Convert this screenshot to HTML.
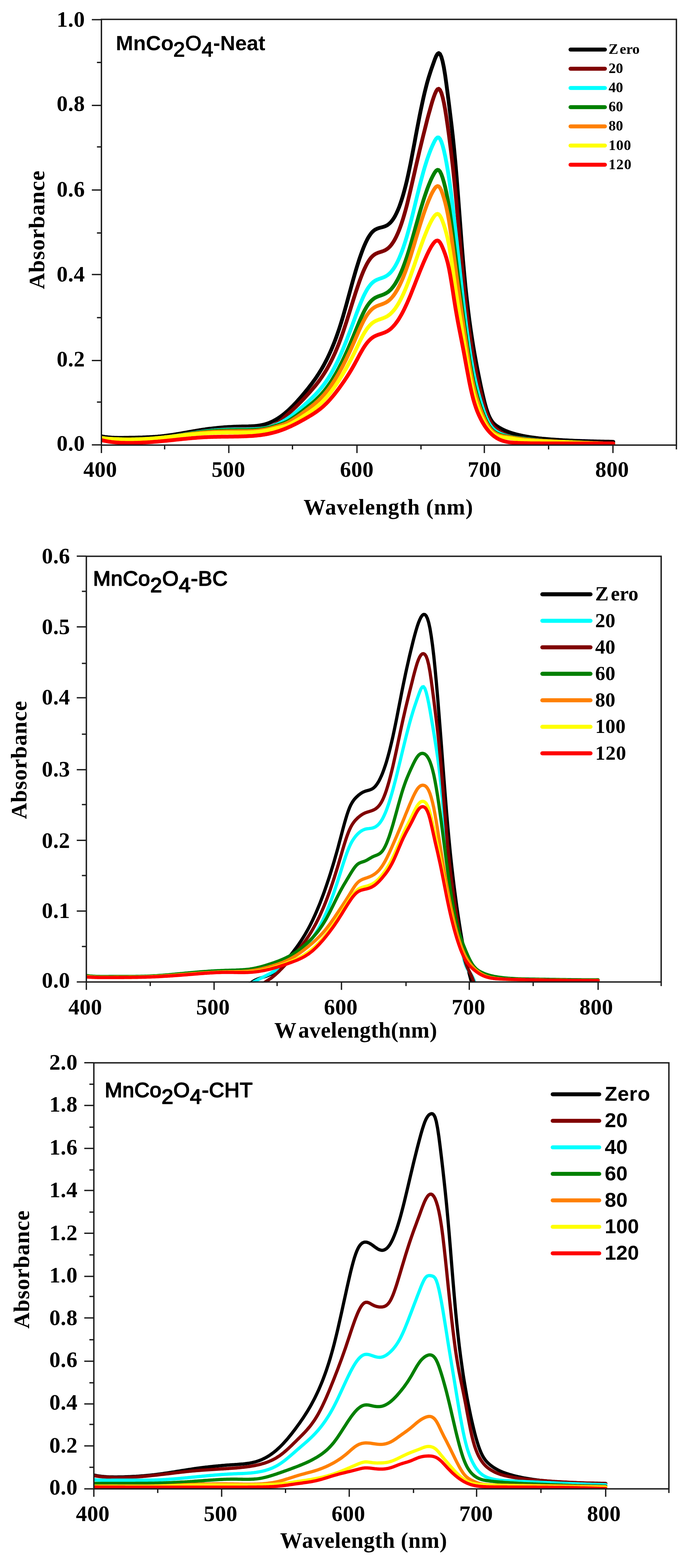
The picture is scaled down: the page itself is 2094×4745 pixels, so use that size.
<!DOCTYPE html>
<html lang="en">
<head>
<meta charset="utf-8">
<title>UV-Vis absorbance spectra</title>
<style>
html,body{margin:0;padding:0;background:#fff;}
body{width:2094px;height:4745px;overflow:hidden;}
svg{display:block;filter:blur(0.7px);}
.ax{stroke:#1c1c1c;fill:none;stroke-linecap:butt;}
.cv{fill:none;stroke-linejoin:round;stroke-linecap:round;}
.tl{font-family:"Liberation Serif","DejaVu Serif",serif;font-weight:bold;fill:#000;}
.tt{font-family:"Liberation Sans","DejaVu Sans",sans-serif;font-weight:bold;fill:#000;}
.tn{font-family:"Liberation Sans","DejaVu Sans",sans-serif;font-weight:normal;fill:#000;stroke:#000;stroke-width:2.5px;stroke-linejoin:round;}
</style>
</head>
<body>
<svg width="2094" height="4745" viewBox="0 0 2094 4745">
<rect x="0" y="0" width="2094" height="4745" fill="#ffffff"/>
<g id="chart1">
<clipPath id="clip1"><rect x="306.9" y="58.6" width="1739.9" height="1288.3"/></clipPath>
<g clip-path="url(#clip1)">
<polyline class="cv" stroke="#000000" stroke-width="11.5" points="306.9,1320.5 310.8,1321.2 314.6,1321.8 318.5,1322.4 322.4,1322.8 326.2,1323.3 330.1,1323.6 334.0,1323.9 337.8,1324.2 341.7,1324.4 345.6,1324.6 349.4,1324.7 353.3,1324.8 357.2,1324.9 361.0,1324.9 364.9,1324.9 368.8,1324.9 372.6,1324.9 376.5,1324.8 380.4,1324.8 384.2,1324.7 388.1,1324.7 392.0,1324.6 395.8,1324.6 399.7,1324.5 403.6,1324.4 407.4,1324.4 411.3,1324.3 415.2,1324.2 419.0,1324.1 422.9,1324.0 426.8,1323.9 430.6,1323.8 434.5,1323.6 438.4,1323.5 442.2,1323.3 446.1,1323.1 450.0,1323.0 453.8,1322.7 457.7,1322.5 461.6,1322.3 465.4,1322.0 469.3,1321.8 473.2,1321.5 477.0,1321.2 480.9,1320.8 484.8,1320.5 488.6,1320.1 492.5,1319.7 496.4,1319.3 500.2,1318.8 504.1,1318.3 508.0,1317.8 511.8,1317.3 515.7,1316.8 519.6,1316.2 523.4,1315.6 527.3,1315.0 531.2,1314.4 535.0,1313.8 538.9,1313.1 542.8,1312.5 546.6,1311.8 550.5,1311.1 554.4,1310.4 558.2,1309.8 562.1,1309.1 566.0,1308.4 569.8,1307.7 573.7,1307.0 577.6,1306.3 581.4,1305.7 585.3,1305.0 589.2,1304.3 593.0,1303.6 596.9,1303.0 600.7,1302.4 604.6,1301.7 608.5,1301.1 612.3,1300.5 616.2,1299.9 620.1,1299.4 623.9,1298.8 627.8,1298.3 631.7,1297.8 635.5,1297.3 639.4,1296.9 643.3,1296.4 647.1,1296.0 651.0,1295.6 654.9,1295.2 658.7,1294.8 662.6,1294.4 666.5,1294.1 670.3,1293.7 674.2,1293.4 678.1,1293.1 681.9,1292.8 685.8,1292.6 689.7,1292.3 693.5,1292.1 697.4,1291.9 701.3,1291.7 705.1,1291.5 709.0,1291.3 712.9,1291.2 716.7,1291.0 720.6,1290.9 724.5,1290.8 728.3,1290.7 732.2,1290.6 736.1,1290.5 739.9,1290.5 743.8,1290.4 747.7,1290.4 751.5,1290.3 755.4,1290.1 759.3,1290.0 763.1,1289.8 767.0,1289.6 770.9,1289.3 774.7,1288.9 778.6,1288.5 782.5,1288.0 786.3,1287.4 790.2,1286.7 794.1,1285.9 797.9,1285.0 801.8,1284.0 805.7,1282.9 809.5,1281.6 813.4,1280.2 817.3,1278.6 821.1,1276.9 825.0,1275.1 828.9,1273.1 832.7,1271.0 836.6,1268.7 840.5,1266.3 844.3,1263.8 848.2,1261.2 852.1,1258.4 855.9,1255.5 859.8,1252.4 863.7,1249.2 867.5,1245.9 871.4,1242.5 875.3,1238.9 879.1,1235.2 883.0,1231.4 886.9,1227.5 890.7,1223.5 894.6,1219.4 898.5,1215.2 902.3,1210.9 906.2,1206.5 910.1,1202.1 913.9,1197.6 917.8,1193.0 921.7,1188.3 925.5,1183.6 929.4,1178.9 933.3,1174.0 937.1,1169.1 941.0,1164.1 944.9,1159.0 948.7,1153.7 952.6,1148.3 956.5,1142.8 960.3,1137.0 964.2,1131.1 968.1,1124.9 971.9,1118.6 975.8,1112.0 979.7,1105.1 983.5,1097.9 987.4,1090.5 991.3,1082.7 995.1,1074.6 999.0,1066.2 1002.9,1057.4 1006.7,1048.2 1010.6,1038.6 1014.5,1028.6 1018.3,1018.2 1022.2,1007.2 1026.1,995.8 1029.9,983.9 1033.8,971.5 1037.7,958.6 1041.5,945.2 1045.4,931.5 1049.3,917.5 1053.1,903.3 1057.0,889.1 1060.9,874.8 1064.7,860.7 1068.6,846.7 1072.5,833.1 1076.3,819.8 1080.2,806.9 1084.1,794.5 1087.9,782.6 1091.8,771.3 1095.7,760.6 1099.5,750.6 1103.4,741.3 1107.3,732.7 1111.1,724.9 1115.0,717.9 1118.9,711.8 1122.7,706.5 1126.6,702.0 1130.5,698.4 1134.3,695.6 1138.2,693.4 1142.1,691.7 1145.9,690.4 1149.8,689.3 1153.7,688.3 1157.5,687.3 1161.4,686.1 1165.3,684.7 1169.1,682.9 1173.0,680.7 1176.8,677.8 1180.7,674.3 1184.6,670.0 1188.4,665.0 1192.3,659.1 1196.2,652.3 1200.0,644.7 1203.9,636.1 1207.8,626.6 1211.6,616.0 1215.5,604.4 1219.4,591.8 1223.2,578.1 1227.1,563.3 1231.0,547.5 1234.8,530.5 1238.7,512.3 1242.6,493.3 1246.4,473.5 1250.3,453.2 1254.2,432.6 1258.0,411.9 1261.9,391.3 1265.8,371.1 1269.6,351.3 1273.5,332.2 1277.4,313.8 1281.2,296.2 1285.1,279.5 1289.0,263.8 1292.8,249.3 1296.7,235.9 1300.6,223.5 1304.4,211.8 1308.3,200.6 1312.2,189.6 1316.0,178.9 1319.9,169.5 1323.8,163.0 1327.6,160.5 1331.5,163.4 1335.4,171.6 1339.2,185.2 1343.1,203.8 1347.0,227.3 1350.8,254.5 1354.7,284.1 1358.6,314.9 1362.4,345.9 1366.3,377.9 1370.2,411.9 1374.0,448.9 1377.9,490.0 1381.8,535.9 1385.6,585.2 1389.5,636.6 1393.4,688.3 1397.2,738.9 1401.1,786.6 1405.0,830.3 1408.8,870.0 1412.7,906.1 1416.6,939.1 1420.4,969.3 1424.3,997.1 1428.2,1022.9 1432.0,1047.1 1435.9,1069.9 1439.8,1091.5 1443.6,1112.0 1447.5,1131.8 1451.4,1150.8 1455.2,1169.3 1459.1,1187.1 1463.0,1203.9 1466.8,1219.4 1470.7,1233.4 1474.6,1245.6 1478.4,1255.9 1482.3,1264.4 1486.2,1271.3 1490.0,1276.9 1493.9,1281.4 1497.8,1285.1 1501.6,1288.1 1505.5,1290.7 1509.4,1293.2 1513.2,1295.4 1517.1,1297.6 1521.0,1299.6 1524.8,1301.4 1528.7,1303.2 1532.6,1304.8 1536.4,1306.4 1540.3,1307.8 1544.2,1309.1 1548.0,1310.4 1551.9,1311.6 1555.8,1312.7 1559.6,1313.8 1563.5,1314.8 1567.4,1315.7 1571.2,1316.7 1575.1,1317.5 1579.0,1318.4 1582.8,1319.2 1586.7,1319.9 1590.6,1320.6 1594.4,1321.3 1598.3,1322.0 1602.2,1322.6 1606.0,1323.2 1609.9,1323.8 1613.8,1324.3 1617.6,1324.8 1621.5,1325.3 1625.4,1325.7 1629.2,1326.2 1633.1,1326.6 1637.0,1327.0 1640.8,1327.4 1644.7,1327.7 1648.6,1328.1 1652.4,1328.4 1656.3,1328.7 1660.2,1329.1 1664.0,1329.4 1667.9,1329.7 1671.8,1329.9 1675.6,1330.2 1679.5,1330.5 1683.4,1330.8 1687.2,1331.0 1691.1,1331.3 1695.0,1331.5 1698.8,1331.7 1702.7,1332.0 1706.6,1332.2 1710.4,1332.4 1714.3,1332.6 1718.2,1332.8 1722.0,1333.0 1725.9,1333.2 1729.8,1333.3 1733.6,1333.5 1737.5,1333.7 1741.4,1333.9 1745.2,1334.0 1749.1,1334.2 1753.0,1334.3 1756.8,1334.4 1760.7,1334.6 1764.5,1334.7 1768.4,1334.8 1772.3,1335.0 1776.1,1335.1 1780.0,1335.2 1783.9,1335.3 1787.7,1335.4 1791.6,1335.5 1795.5,1335.6 1799.3,1335.7 1803.2,1335.8 1807.1,1335.9 1810.9,1336.0 1814.8,1336.1 1818.7,1336.2 1822.5,1336.3 1826.4,1336.3 1830.3,1336.4 1834.1,1336.5 1838.0,1336.6 1841.9,1336.6 1845.7,1336.7 1849.6,1336.8 1853.5,1336.9 1855.8,1336.9"/>
<polyline class="cv" stroke="#800000" stroke-width="11.5" points="306.9,1325.0 310.8,1325.7 314.6,1326.3 318.5,1326.9 322.4,1327.3 326.2,1327.7 330.1,1328.1 334.0,1328.3 337.8,1328.6 341.7,1328.8 345.6,1329.0 349.4,1329.1 353.3,1329.2 357.2,1329.3 361.0,1329.4 364.9,1329.4 368.8,1329.5 372.6,1329.5 376.5,1329.5 380.4,1329.5 384.2,1329.5 388.1,1329.5 392.0,1329.4 395.8,1329.4 399.7,1329.3 403.6,1329.3 407.4,1329.2 411.3,1329.1 415.2,1329.0 419.0,1328.9 422.9,1328.8 426.8,1328.7 430.6,1328.6 434.5,1328.4 438.4,1328.2 442.2,1328.1 446.1,1327.9 450.0,1327.7 453.8,1327.4 457.7,1327.2 461.6,1326.9 465.4,1326.7 469.3,1326.4 473.2,1326.1 477.0,1325.7 480.9,1325.4 484.8,1325.0 488.6,1324.6 492.5,1324.2 496.4,1323.8 500.2,1323.3 504.1,1322.8 508.0,1322.3 511.8,1321.8 515.7,1321.3 519.6,1320.7 523.4,1320.1 527.3,1319.6 531.2,1319.0 535.0,1318.3 538.9,1317.7 542.8,1317.1 546.6,1316.5 550.5,1315.8 554.4,1315.2 558.2,1314.5 562.1,1313.9 566.0,1313.2 569.8,1312.6 573.7,1311.9 577.6,1311.3 581.4,1310.6 585.3,1310.0 589.2,1309.4 593.0,1308.8 596.9,1308.2 600.7,1307.6 604.6,1307.0 608.5,1306.5 612.3,1305.9 616.2,1305.4 620.1,1304.9 623.9,1304.4 627.8,1304.0 631.7,1303.5 635.5,1303.1 639.4,1302.7 643.3,1302.3 647.1,1301.9 651.0,1301.6 654.9,1301.2 658.7,1300.9 662.6,1300.6 666.5,1300.3 670.3,1300.1 674.2,1299.8 678.1,1299.6 681.9,1299.3 685.8,1299.1 689.7,1298.9 693.5,1298.7 697.4,1298.5 701.3,1298.4 705.1,1298.3 709.0,1298.2 712.9,1298.1 716.7,1298.0 720.6,1297.9 724.5,1297.9 728.3,1297.9 732.2,1297.8 736.1,1297.8 739.9,1297.8 743.8,1297.9 747.7,1297.9 751.5,1297.8 755.4,1297.8 759.3,1297.7 763.1,1297.6 767.0,1297.5 770.9,1297.3 774.7,1297.1 778.6,1296.9 782.5,1296.7 786.3,1296.5 790.2,1296.3 794.1,1295.9 797.9,1295.5 801.8,1295.0 805.7,1294.4 809.5,1293.6 813.4,1292.7 817.3,1291.6 821.1,1290.2 825.0,1288.7 828.9,1287.0 832.7,1285.0 836.6,1282.6 840.5,1279.9 844.3,1277.0 848.2,1273.9 852.1,1270.6 855.9,1267.2 859.8,1263.7 863.7,1260.1 867.5,1256.5 871.4,1252.9 875.3,1249.3 879.1,1245.9 883.0,1242.5 886.9,1239.0 890.7,1235.4 894.6,1231.8 898.5,1228.0 902.3,1224.2 906.2,1220.3 910.1,1216.3 913.9,1212.3 917.8,1208.2 921.7,1204.0 925.5,1199.8 929.4,1195.6 933.3,1191.4 937.1,1187.1 941.0,1182.7 944.9,1178.3 948.7,1173.8 952.6,1169.2 956.5,1164.4 960.3,1159.5 964.2,1154.4 968.1,1149.2 971.9,1143.7 975.8,1138.1 979.7,1132.2 983.5,1126.1 987.4,1119.7 991.3,1113.0 995.1,1106.0 999.0,1098.7 1002.9,1091.1 1006.7,1083.2 1010.6,1074.9 1014.5,1066.3 1018.3,1057.3 1022.2,1047.9 1026.1,1038.1 1029.9,1027.9 1033.8,1017.2 1037.7,1006.2 1041.5,994.7 1045.4,983.0 1049.3,971.0 1053.1,958.8 1057.0,946.4 1060.9,934.0 1064.7,921.6 1068.6,909.3 1072.5,897.1 1076.3,885.1 1080.2,873.4 1084.1,862.0 1087.9,851.0 1091.8,840.5 1095.7,830.5 1099.5,821.1 1103.4,812.4 1107.3,804.4 1111.1,797.1 1115.0,790.6 1118.9,784.8 1122.7,779.8 1126.6,775.7 1130.5,772.3 1134.3,769.5 1138.2,767.4 1142.1,765.7 1145.9,764.2 1149.8,763.0 1153.7,761.8 1157.5,760.5 1161.4,759.0 1165.3,757.2 1169.1,755.0 1173.0,752.3 1176.8,749.0 1180.7,745.1 1184.6,740.4 1188.4,735.0 1192.3,728.9 1196.2,721.9 1200.0,714.2 1203.9,705.6 1207.8,696.2 1211.6,685.9 1215.5,674.8 1219.4,662.8 1223.2,650.0 1227.1,636.3 1231.0,621.7 1234.8,606.2 1238.7,590.1 1242.6,573.7 1246.4,556.9 1250.3,540.0 1254.2,523.0 1258.0,506.0 1261.9,489.1 1265.8,472.4 1269.6,456.0 1273.5,439.9 1277.4,424.0 1281.2,408.5 1285.1,393.1 1289.0,377.5 1292.8,362.1 1296.7,347.4 1300.6,333.6 1304.4,320.0 1308.3,306.6 1312.2,294.8 1316.0,284.4 1319.9,275.8 1323.8,270.1 1327.6,268.6 1331.5,272.2 1335.4,280.5 1339.2,293.3 1343.1,310.3 1347.0,331.0 1350.8,354.9 1354.7,381.4 1358.6,409.7 1362.4,439.4 1366.3,470.6 1370.2,503.8 1374.0,539.4 1377.9,577.8 1381.8,619.0 1385.6,662.4 1389.5,706.9 1393.4,751.6 1397.2,795.3 1401.1,837.0 1405.0,876.0 1408.8,912.3 1412.7,945.9 1416.6,977.0 1420.4,1005.8 1424.3,1032.5 1428.2,1057.1 1432.0,1080.0 1435.9,1101.2 1439.8,1121.0 1443.6,1139.6 1447.5,1157.2 1451.4,1174.1 1455.2,1190.3 1459.1,1205.8 1463.0,1220.3 1466.8,1233.8 1470.7,1246.0 1474.6,1256.7 1478.4,1265.8 1482.3,1273.5 1486.2,1280.1 1490.0,1285.6 1493.9,1290.2 1497.8,1294.2 1501.6,1297.6 1505.5,1300.7 1509.4,1303.6 1513.2,1306.3 1517.1,1308.8 1521.0,1311.1 1524.8,1313.2 1528.7,1315.2 1532.6,1317.0 1536.4,1318.5 1540.3,1319.9 1544.2,1321.1 1548.0,1322.1 1551.9,1322.9 1555.8,1323.5 1559.6,1324.0 1563.5,1324.5 1567.4,1324.9 1571.2,1325.2 1575.1,1325.7 1579.0,1326.1 1582.8,1326.7 1586.7,1327.3 1590.6,1327.8 1594.4,1328.4 1598.3,1328.9 1602.2,1329.4 1606.0,1329.9 1609.9,1330.4 1613.8,1330.8 1617.6,1331.2 1621.5,1331.6 1625.4,1332.0 1629.2,1332.4 1633.1,1332.7 1637.0,1333.1 1640.8,1333.4 1644.7,1333.7 1648.6,1334.0 1652.4,1334.3 1656.3,1334.6 1660.2,1334.8 1664.0,1335.1 1667.9,1335.4 1671.8,1335.6 1675.6,1335.9 1679.5,1336.1 1683.4,1336.3 1687.2,1336.5 1691.1,1336.8 1695.0,1337.0 1698.8,1337.2 1702.7,1337.4 1706.6,1337.6 1710.4,1337.8 1714.3,1338.0 1718.2,1338.2 1722.0,1338.3 1725.9,1338.5 1729.8,1338.7 1733.6,1338.8 1737.5,1339.0 1741.4,1339.2 1745.2,1339.3 1749.1,1339.5 1753.0,1339.6 1756.8,1339.8 1760.7,1339.9 1764.5,1340.0 1768.4,1340.2 1772.3,1340.3 1776.1,1340.4 1780.0,1340.6 1783.9,1340.7 1787.7,1340.8 1791.6,1340.9 1795.5,1341.1 1799.3,1341.2 1803.2,1341.3 1807.1,1341.4 1810.9,1341.5 1814.8,1341.6 1818.7,1341.7 1822.5,1341.8 1826.4,1341.9 1830.3,1342.0 1834.1,1342.1 1838.0,1342.2 1841.9,1342.4 1845.7,1342.5 1849.6,1342.6 1853.5,1342.7 1855.8,1342.7"/>
<polyline class="cv" stroke="#00ffff" stroke-width="11.5" points="306.9,1325.0 310.8,1325.7 314.6,1326.3 318.5,1326.8 322.4,1327.3 326.2,1327.6 330.1,1328.0 334.0,1328.2 337.8,1328.5 341.7,1328.7 345.6,1328.8 349.4,1329.0 353.3,1329.1 357.2,1329.2 361.0,1329.3 364.9,1329.4 368.8,1329.5 372.6,1329.6 376.5,1329.7 380.4,1329.7 384.2,1329.7 388.1,1329.7 392.0,1329.7 395.8,1329.7 399.7,1329.6 403.6,1329.6 407.4,1329.5 411.3,1329.4 415.2,1329.3 419.0,1329.2 422.9,1329.1 426.8,1329.0 430.6,1328.8 434.5,1328.6 438.4,1328.5 442.2,1328.3 446.1,1328.0 450.0,1327.8 453.8,1327.6 457.7,1327.3 461.6,1327.0 465.4,1326.7 469.3,1326.4 473.2,1326.1 477.0,1325.7 480.9,1325.4 484.8,1325.0 488.6,1324.6 492.5,1324.2 496.4,1323.8 500.2,1323.3 504.1,1322.8 508.0,1322.4 511.8,1321.8 515.7,1321.3 519.6,1320.8 523.4,1320.2 527.3,1319.6 531.2,1319.0 535.0,1318.4 538.9,1317.8 542.8,1317.2 546.6,1316.6 550.5,1315.9 554.4,1315.3 558.2,1314.7 562.1,1314.0 566.0,1313.4 569.8,1312.8 573.7,1312.1 577.6,1311.5 581.4,1310.9 585.3,1310.3 589.2,1309.7 593.0,1309.1 596.9,1308.5 600.7,1307.9 604.6,1307.4 608.5,1306.9 612.3,1306.3 616.2,1305.9 620.1,1305.4 623.9,1304.9 627.8,1304.5 631.7,1304.1 635.5,1303.7 639.4,1303.3 643.3,1303.0 647.1,1302.7 651.0,1302.3 654.9,1302.1 658.7,1301.8 662.6,1301.5 666.5,1301.3 670.3,1301.0 674.2,1300.8 678.1,1300.6 681.9,1300.5 685.8,1300.3 689.7,1300.1 693.5,1300.0 697.4,1299.9 701.3,1299.8 705.1,1299.7 709.0,1299.6 712.9,1299.6 716.7,1299.5 720.6,1299.5 724.5,1299.4 728.3,1299.4 732.2,1299.4 736.1,1299.4 739.9,1299.4 743.8,1299.4 747.7,1299.3 751.5,1299.3 755.4,1299.2 759.3,1299.1 763.1,1299.0 767.0,1298.8 770.9,1298.6 774.7,1298.3 778.6,1298.1 782.5,1297.8 786.3,1297.5 790.2,1297.1 794.1,1296.6 797.9,1296.1 801.8,1295.5 805.7,1294.8 809.5,1294.0 813.4,1293.1 817.3,1292.1 821.1,1291.0 825.0,1289.7 828.9,1288.3 832.7,1286.7 836.6,1285.1 840.5,1283.4 844.3,1281.6 848.2,1279.6 852.1,1277.6 855.9,1275.4 859.8,1273.2 863.7,1270.8 867.5,1268.4 871.4,1265.8 875.3,1263.1 879.1,1260.4 883.0,1257.5 886.9,1254.5 890.7,1251.5 894.6,1248.4 898.5,1245.2 902.3,1242.0 906.2,1238.7 910.1,1235.4 913.9,1232.0 917.8,1228.5 921.7,1225.1 925.5,1221.5 929.4,1218.0 933.3,1214.4 937.1,1210.8 941.0,1207.2 944.9,1203.4 948.7,1199.6 952.6,1195.7 956.5,1191.7 960.3,1187.5 964.2,1183.2 968.1,1178.7 971.9,1174.0 975.8,1169.2 979.7,1164.1 983.5,1158.8 987.4,1153.3 991.3,1147.5 995.1,1141.5 999.0,1135.2 1002.9,1128.6 1006.7,1121.8 1010.6,1114.7 1014.5,1107.3 1018.3,1099.7 1022.2,1091.8 1026.1,1083.5 1029.9,1075.0 1033.8,1066.2 1037.7,1057.1 1041.5,1047.7 1045.4,1038.0 1049.3,1028.2 1053.1,1018.1 1057.0,1007.9 1060.9,997.6 1064.7,987.1 1068.6,976.7 1072.5,966.2 1076.3,955.7 1080.2,945.3 1084.1,935.1 1087.9,925.2 1091.8,915.6 1095.7,906.5 1099.5,897.8 1103.4,889.7 1107.3,882.4 1111.1,875.7 1115.0,869.6 1118.9,864.3 1122.7,859.7 1126.6,855.8 1130.5,852.5 1134.3,849.9 1138.2,847.8 1142.1,846.0 1145.9,844.5 1149.8,843.1 1153.7,841.8 1157.5,840.5 1161.4,838.9 1165.3,837.2 1169.1,835.0 1173.0,832.5 1176.8,829.4 1180.7,825.8 1184.6,821.5 1188.4,816.6 1192.3,811.0 1196.2,804.7 1200.0,797.8 1203.9,790.1 1207.8,781.7 1211.6,772.5 1215.5,762.7 1219.4,752.1 1223.2,740.7 1227.1,728.7 1231.0,715.9 1234.8,702.4 1238.7,688.2 1242.6,673.4 1246.4,658.1 1250.3,642.4 1254.2,626.5 1258.0,610.5 1261.9,594.5 1265.8,578.8 1269.6,563.4 1273.5,548.4 1277.4,533.8 1281.2,519.8 1285.1,506.4 1289.0,493.7 1292.8,481.8 1296.7,470.6 1300.6,460.1 1304.4,450.4 1308.3,441.3 1312.2,433.0 1316.0,425.4 1319.9,419.5 1323.8,416.0 1327.6,416.1 1331.5,420.3 1335.4,428.4 1339.2,440.0 1343.1,454.6 1347.0,471.9 1350.8,491.6 1354.7,513.9 1358.6,538.7 1362.4,566.1 1366.3,595.6 1370.2,627.0 1374.0,660.1 1377.9,694.3 1381.8,729.5 1385.6,765.2 1389.5,801.1 1393.4,836.8 1397.2,871.9 1401.1,906.0 1405.0,938.9 1408.8,970.3 1412.7,1000.2 1416.6,1028.4 1420.4,1055.0 1424.3,1079.6 1428.2,1102.3 1432.0,1123.0 1435.9,1141.9 1439.8,1159.2 1443.6,1175.2 1447.5,1190.1 1451.4,1204.1 1455.2,1217.4 1459.1,1229.9 1463.0,1241.7 1466.8,1252.5 1470.7,1262.4 1474.6,1271.1 1478.4,1278.8 1482.3,1285.3 1486.2,1290.9 1490.0,1295.5 1493.9,1299.5 1497.8,1302.8 1501.6,1305.6 1505.5,1308.0 1509.4,1310.2 1513.2,1312.1 1517.1,1313.8 1521.0,1315.3 1524.8,1316.7 1528.7,1317.9 1532.6,1319.0 1536.4,1320.0 1540.3,1320.9 1544.2,1321.8 1548.0,1322.6 1551.9,1323.3 1555.8,1323.9 1559.6,1324.5 1563.5,1325.0 1567.4,1325.5 1571.2,1326.0 1575.1,1326.5 1579.0,1326.9 1582.8,1327.3 1586.7,1327.7 1590.6,1328.2 1594.4,1328.6 1598.3,1329.0 1602.2,1329.4 1606.0,1329.9 1609.9,1330.3 1613.8,1330.7 1617.6,1331.1 1621.5,1331.5 1625.4,1331.9 1629.2,1332.3 1633.1,1332.7 1637.0,1333.0 1640.8,1333.4 1644.7,1333.7 1648.6,1334.0 1652.4,1334.3 1656.3,1334.6 1660.2,1334.8 1664.0,1335.1 1667.9,1335.3 1671.8,1335.6 1675.6,1335.8 1679.5,1336.0 1683.4,1336.2 1687.2,1336.5 1691.1,1336.7 1695.0,1336.9 1698.8,1337.1 1702.7,1337.3 1706.6,1337.5 1710.4,1337.7 1714.3,1337.9 1718.2,1338.1 1722.0,1338.3 1725.9,1338.4 1729.8,1338.6 1733.6,1338.8 1737.5,1338.9 1741.4,1339.1 1745.2,1339.3 1749.1,1339.4 1753.0,1339.6 1756.8,1339.7 1760.7,1339.9 1764.5,1340.0 1768.4,1340.2 1772.3,1340.3 1776.1,1340.5 1780.0,1340.6 1783.9,1340.7 1787.7,1340.8 1791.6,1341.0 1795.5,1341.1 1799.3,1341.2 1803.2,1341.3 1807.1,1341.4 1810.9,1341.6 1814.8,1341.7 1818.7,1341.8 1822.5,1341.9 1826.4,1342.0 1830.3,1342.1 1834.1,1342.2 1838.0,1342.3 1841.9,1342.4 1845.7,1342.5 1849.6,1342.6 1853.5,1342.7 1855.8,1342.7"/>
<polyline class="cv" stroke="#008000" stroke-width="11.5" points="306.9,1325.0 310.8,1325.7 314.6,1326.3 318.5,1326.8 322.4,1327.2 326.2,1327.6 330.1,1327.9 334.0,1328.2 337.8,1328.4 341.7,1328.6 345.6,1328.7 349.4,1328.9 353.3,1329.0 357.2,1329.1 361.0,1329.3 364.9,1329.4 368.8,1329.5 372.6,1329.6 376.5,1329.7 380.4,1329.8 384.2,1329.8 388.1,1329.8 392.0,1329.8 395.8,1329.8 399.7,1329.8 403.6,1329.7 407.4,1329.6 411.3,1329.6 415.2,1329.5 419.0,1329.3 422.9,1329.2 426.8,1329.1 430.6,1328.9 434.5,1328.7 438.4,1328.5 442.2,1328.3 446.1,1328.1 450.0,1327.8 453.8,1327.6 457.7,1327.3 461.6,1327.0 465.4,1326.7 469.3,1326.4 473.2,1326.1 477.0,1325.7 480.9,1325.3 484.8,1325.0 488.6,1324.6 492.5,1324.2 496.4,1323.7 500.2,1323.3 504.1,1322.9 508.0,1322.4 511.8,1321.9 515.7,1321.4 519.6,1320.9 523.4,1320.3 527.3,1319.8 531.2,1319.2 535.0,1318.7 538.9,1318.1 542.8,1317.5 546.6,1316.9 550.5,1316.3 554.4,1315.7 558.2,1315.1 562.1,1314.5 566.0,1313.9 569.8,1313.3 573.7,1312.7 577.6,1312.1 581.4,1311.6 585.3,1311.0 589.2,1310.5 593.0,1309.9 596.9,1309.4 600.7,1308.9 604.6,1308.4 608.5,1307.9 612.3,1307.4 616.2,1307.0 620.1,1306.5 623.9,1306.1 627.8,1305.8 631.7,1305.4 635.5,1305.0 639.4,1304.7 643.3,1304.4 647.1,1304.1 651.0,1303.9 654.9,1303.6 658.7,1303.4 662.6,1303.2 666.5,1303.0 670.3,1302.8 674.2,1302.6 678.1,1302.4 681.9,1302.3 685.8,1302.2 689.7,1302.0 693.5,1301.9 697.4,1301.8 701.3,1301.8 705.1,1301.7 709.0,1301.7 712.9,1301.6 716.7,1301.6 720.6,1301.5 724.5,1301.5 728.3,1301.5 732.2,1301.5 736.1,1301.5 739.9,1301.4 743.8,1301.4 747.7,1301.4 751.5,1301.3 755.4,1301.2 759.3,1301.1 763.1,1300.9 767.0,1300.8 770.9,1300.5 774.7,1300.2 778.6,1299.9 782.5,1299.5 786.3,1299.1 790.2,1298.6 794.1,1298.1 797.9,1297.5 801.8,1296.8 805.7,1296.1 809.5,1295.3 813.4,1294.4 817.3,1293.5 821.1,1292.5 825.0,1291.4 828.9,1290.2 832.7,1289.0 836.6,1287.9 840.5,1286.7 844.3,1285.5 848.2,1284.2 852.1,1282.9 855.9,1281.5 859.8,1279.9 863.7,1278.3 867.5,1276.5 871.4,1274.5 875.3,1272.3 879.1,1269.9 883.0,1267.4 886.9,1264.8 890.7,1262.1 894.6,1259.4 898.5,1256.6 902.3,1253.8 906.2,1250.9 910.1,1247.9 913.9,1244.9 917.8,1241.9 921.7,1238.9 925.5,1235.8 929.4,1232.7 933.3,1229.5 937.1,1226.4 941.0,1223.1 944.9,1219.8 948.7,1216.5 952.6,1213.0 956.5,1209.4 960.3,1205.7 964.2,1201.8 968.1,1197.8 971.9,1193.7 975.8,1189.3 979.7,1184.8 983.5,1180.0 987.4,1175.0 991.3,1169.8 995.1,1164.4 999.0,1158.7 1002.9,1152.8 1006.7,1146.7 1010.6,1140.3 1014.5,1133.8 1018.3,1127.0 1022.2,1119.9 1026.1,1112.7 1029.9,1105.2 1033.8,1097.5 1037.7,1089.5 1041.5,1081.4 1045.4,1073.0 1049.3,1064.4 1053.1,1055.7 1057.0,1046.8 1060.9,1037.7 1064.7,1028.5 1068.6,1019.2 1072.5,1009.8 1076.3,1000.4 1080.2,990.9 1084.1,981.5 1087.9,972.3 1091.8,963.4 1095.7,954.9 1099.5,946.8 1103.4,939.2 1107.3,932.3 1111.1,926.1 1115.0,920.4 1118.9,915.4 1122.7,911.1 1126.6,907.4 1130.5,904.3 1134.3,901.7 1138.2,899.7 1142.1,897.9 1145.9,896.4 1149.8,895.0 1153.7,893.7 1157.5,892.3 1161.4,890.7 1165.3,888.9 1169.1,886.8 1173.0,884.4 1176.8,881.4 1180.7,877.9 1184.6,873.9 1188.4,869.2 1192.3,864.0 1196.2,858.2 1200.0,851.8 1203.9,844.7 1207.8,837.0 1211.6,828.7 1215.5,819.7 1219.4,810.1 1223.2,800.0 1227.1,789.2 1231.0,777.8 1234.8,765.9 1238.7,753.4 1242.6,740.4 1246.4,727.0 1250.3,713.3 1254.2,699.5 1258.0,685.6 1261.9,671.8 1265.8,658.0 1269.6,644.6 1273.5,631.4 1277.4,618.6 1281.2,606.2 1285.1,594.3 1289.0,582.9 1292.8,572.0 1296.7,561.8 1300.6,552.2 1304.4,543.3 1308.3,535.1 1312.2,527.7 1316.0,521.3 1319.9,516.4 1323.8,514.0 1327.6,514.7 1331.5,519.1 1335.4,527.0 1339.2,537.7 1343.1,550.8 1347.0,565.8 1350.8,582.9 1354.7,602.5 1358.6,624.9 1362.4,650.4 1366.3,678.3 1370.2,708.1 1374.0,739.0 1377.9,770.3 1381.8,801.4 1385.6,832.3 1389.5,862.9 1393.4,893.1 1397.2,922.9 1401.1,952.3 1405.0,981.2 1408.8,1009.4 1412.7,1036.6 1416.6,1062.7 1420.4,1087.4 1424.3,1110.4 1428.2,1131.6 1432.0,1150.7 1435.9,1167.9 1439.8,1183.5 1443.6,1197.8 1447.5,1210.8 1451.4,1223.0 1455.2,1234.5 1459.1,1245.2 1463.0,1255.2 1466.8,1264.5 1470.7,1272.9 1474.6,1280.4 1478.4,1287.1 1482.3,1292.9 1486.2,1297.8 1490.0,1301.9 1493.9,1305.3 1497.8,1308.2 1501.6,1310.5 1505.5,1312.5 1509.4,1314.2 1513.2,1315.7 1517.1,1316.9 1521.0,1318.0 1524.8,1318.9 1528.7,1319.7 1532.6,1320.4 1536.4,1321.1 1540.3,1321.7 1544.2,1322.4 1548.0,1323.1 1551.9,1323.7 1555.8,1324.3 1559.6,1324.9 1563.5,1325.5 1567.4,1326.0 1571.2,1326.5 1575.1,1327.0 1579.0,1327.5 1582.8,1328.0 1586.7,1328.4 1590.6,1328.8 1594.4,1329.2 1598.3,1329.7 1602.2,1330.1 1606.0,1330.4 1609.9,1330.8 1613.8,1331.2 1617.6,1331.6 1621.5,1331.9 1625.4,1332.3 1629.2,1332.6 1633.1,1332.9 1637.0,1333.2 1640.8,1333.5 1644.7,1333.8 1648.6,1334.1 1652.4,1334.4 1656.3,1334.6 1660.2,1334.8 1664.0,1335.1 1667.9,1335.3 1671.8,1335.5 1675.6,1335.7 1679.5,1336.0 1683.4,1336.2 1687.2,1336.4 1691.1,1336.6 1695.0,1336.8 1698.8,1337.0 1702.7,1337.2 1706.6,1337.4 1710.4,1337.6 1714.3,1337.8 1718.2,1337.9 1722.0,1338.1 1725.9,1338.3 1729.8,1338.5 1733.6,1338.6 1737.5,1338.8 1741.4,1339.0 1745.2,1339.1 1749.1,1339.3 1753.0,1339.5 1756.8,1339.6 1760.7,1339.8 1764.5,1339.9 1768.4,1340.1 1772.3,1340.2 1776.1,1340.4 1780.0,1340.5 1783.9,1340.6 1787.7,1340.8 1791.6,1340.9 1795.5,1341.0 1799.3,1341.2 1803.2,1341.3 1807.1,1341.4 1810.9,1341.5 1814.8,1341.6 1818.7,1341.7 1822.5,1341.9 1826.4,1342.0 1830.3,1342.1 1834.1,1342.2 1838.0,1342.3 1841.9,1342.4 1845.7,1342.5 1849.6,1342.6 1853.5,1342.7 1855.8,1342.7"/>
<polyline class="cv" stroke="#ff8000" stroke-width="11.5" points="306.9,1325.0 310.8,1325.7 314.6,1326.3 318.5,1326.8 322.4,1327.2 326.2,1327.6 330.1,1327.9 334.0,1328.1 337.8,1328.4 341.7,1328.6 345.6,1328.7 349.4,1328.9 353.3,1329.0 357.2,1329.1 361.0,1329.3 364.9,1329.4 368.8,1329.6 372.6,1329.7 376.5,1329.8 380.4,1329.8 384.2,1329.8 388.1,1329.9 392.0,1329.9 395.8,1329.8 399.7,1329.8 403.6,1329.8 407.4,1329.7 411.3,1329.6 415.2,1329.5 419.0,1329.4 422.9,1329.2 426.8,1329.1 430.6,1328.9 434.5,1328.7 438.4,1328.5 442.2,1328.3 446.1,1328.1 450.0,1327.8 453.8,1327.5 457.7,1327.3 461.6,1327.0 465.4,1326.7 469.3,1326.4 473.2,1326.0 477.0,1325.7 480.9,1325.3 484.8,1324.9 488.6,1324.5 492.5,1324.1 496.4,1323.7 500.2,1323.3 504.1,1322.9 508.0,1322.4 511.8,1322.0 515.7,1321.5 519.6,1321.0 523.4,1320.5 527.3,1320.0 531.2,1319.5 535.0,1319.0 538.9,1318.5 542.8,1317.9 546.6,1317.4 550.5,1316.9 554.4,1316.4 558.2,1315.8 562.1,1315.3 566.0,1314.8 569.8,1314.3 573.7,1313.8 577.6,1313.3 581.4,1312.8 585.3,1312.3 589.2,1311.9 593.0,1311.4 596.9,1311.0 600.7,1310.6 604.6,1310.1 608.5,1309.7 612.3,1309.4 616.2,1309.0 620.1,1308.7 623.9,1308.4 627.8,1308.1 631.7,1307.8 635.5,1307.5 639.4,1307.3 643.3,1307.0 647.1,1306.8 651.0,1306.6 654.9,1306.4 658.7,1306.3 662.6,1306.1 666.5,1306.0 670.3,1305.8 674.2,1305.7 678.1,1305.6 681.9,1305.5 685.8,1305.3 689.7,1305.2 693.5,1305.2 697.4,1305.1 701.3,1305.0 705.1,1305.0 709.0,1304.9 712.9,1304.9 716.7,1304.9 720.6,1304.8 724.5,1304.8 728.3,1304.8 732.2,1304.8 736.1,1304.8 739.9,1304.7 743.8,1304.7 747.7,1304.7 751.5,1304.6 755.4,1304.5 759.3,1304.3 763.1,1304.2 767.0,1304.0 770.9,1303.7 774.7,1303.5 778.6,1303.1 782.5,1302.7 786.3,1302.3 790.2,1301.8 794.1,1301.2 797.9,1300.6 801.8,1300.0 805.7,1299.2 809.5,1298.4 813.4,1297.6 817.3,1296.6 821.1,1295.6 825.0,1294.6 828.9,1293.4 832.7,1292.3 836.6,1291.2 840.5,1290.1 844.3,1289.0 848.2,1287.8 852.1,1286.6 855.9,1285.3 859.8,1283.9 863.7,1282.4 867.5,1280.7 871.4,1278.9 875.3,1276.9 879.1,1274.6 883.0,1272.3 886.9,1269.9 890.7,1267.4 894.6,1264.8 898.5,1262.2 902.3,1259.6 906.2,1256.9 910.1,1254.1 913.9,1251.4 917.8,1248.5 921.7,1245.7 925.5,1242.8 929.4,1239.9 933.3,1237.0 937.1,1234.0 941.0,1231.0 944.9,1228.0 948.7,1224.8 952.6,1221.6 956.5,1218.2 960.3,1214.8 964.2,1211.2 968.1,1207.5 971.9,1203.6 975.8,1199.5 979.7,1195.2 983.5,1190.8 987.4,1186.1 991.3,1181.2 995.1,1176.1 999.0,1170.8 1002.9,1165.3 1006.7,1159.6 1010.6,1153.7 1014.5,1147.5 1018.3,1141.2 1022.2,1134.6 1026.1,1127.9 1029.9,1121.0 1033.8,1113.8 1037.7,1106.5 1041.5,1099.0 1045.4,1091.3 1049.3,1083.4 1053.1,1075.3 1057.0,1067.1 1060.9,1058.7 1064.7,1050.1 1068.6,1041.4 1072.5,1032.6 1076.3,1023.7 1080.2,1014.7 1084.1,1005.8 1087.9,997.0 1091.8,988.5 1095.7,980.3 1099.5,972.6 1103.4,965.4 1107.3,958.7 1111.1,952.7 1115.0,947.3 1118.9,942.5 1122.7,938.4 1126.6,934.8 1130.5,931.8 1134.3,929.4 1138.2,927.3 1142.1,925.6 1145.9,924.1 1149.8,922.7 1153.7,921.4 1157.5,920.0 1161.4,918.4 1165.3,916.6 1169.1,914.6 1173.0,912.1 1176.8,909.2 1180.7,905.8 1184.6,901.9 1188.4,897.4 1192.3,892.4 1196.2,886.8 1200.0,880.6 1203.9,873.8 1207.8,866.4 1211.6,858.5 1215.5,850.0 1219.4,840.9 1223.2,831.2 1227.1,821.1 1231.0,810.3 1234.8,799.1 1238.7,787.4 1242.6,775.2 1246.4,762.7 1250.3,749.9 1254.2,737.0 1258.0,724.0 1261.9,711.1 1265.8,698.2 1269.6,685.6 1273.5,673.3 1277.4,661.3 1281.2,649.6 1285.1,638.4 1289.0,627.6 1292.8,617.3 1296.7,607.5 1300.6,598.4 1304.4,589.9 1308.3,582.2 1312.2,575.3 1316.0,569.4 1319.9,565.0 1323.8,563.0 1327.6,564.0 1331.5,568.5 1335.4,576.2 1339.2,586.4 1343.1,598.7 1347.0,612.6 1350.8,628.4 1354.7,646.7 1358.6,667.9 1362.4,692.4 1366.3,719.4 1370.2,748.2 1374.0,777.8 1377.9,807.6 1381.8,836.8 1385.6,865.4 1389.5,893.4 1393.4,921.0 1397.2,948.3 1401.1,975.4 1405.0,1002.4 1408.8,1029.0 1412.7,1054.9 1416.6,1079.8 1420.4,1103.5 1424.3,1125.6 1428.2,1145.9 1432.0,1164.2 1435.9,1180.6 1439.8,1195.3 1443.6,1208.6 1447.5,1220.8 1451.4,1232.1 1455.2,1242.7 1459.1,1252.6 1463.0,1261.8 1466.8,1270.3 1470.7,1278.0 1474.6,1285.0 1478.4,1291.2 1482.3,1296.6 1486.2,1301.2 1490.0,1305.0 1493.9,1308.3 1497.8,1311.0 1501.6,1313.2 1505.5,1315.1 1509.4,1316.6 1513.2,1317.9 1517.1,1319.0 1521.0,1319.9 1524.8,1320.7 1528.7,1321.4 1532.6,1322.0 1536.4,1322.5 1540.3,1323.1 1544.2,1323.7 1548.0,1324.3 1551.9,1325.0 1555.8,1325.5 1559.6,1326.1 1563.5,1326.7 1567.4,1327.3 1571.2,1327.8 1575.1,1328.3 1579.0,1328.8 1582.8,1329.3 1586.7,1329.7 1590.6,1330.0 1594.4,1330.4 1598.3,1330.8 1602.2,1331.1 1606.0,1331.4 1609.9,1331.7 1613.8,1332.0 1617.6,1332.3 1621.5,1332.6 1625.4,1332.8 1629.2,1333.1 1633.1,1333.3 1637.0,1333.6 1640.8,1333.8 1644.7,1334.0 1648.6,1334.2 1652.4,1334.4 1656.3,1334.6 1660.2,1334.8 1664.0,1335.0 1667.9,1335.2 1671.8,1335.4 1675.6,1335.6 1679.5,1335.8 1683.4,1336.0 1687.2,1336.2 1691.1,1336.4 1695.0,1336.6 1698.8,1336.7 1702.7,1336.9 1706.6,1337.1 1710.4,1337.3 1714.3,1337.4 1718.2,1337.6 1722.0,1337.8 1725.9,1337.9 1729.8,1338.1 1733.6,1338.3 1737.5,1338.4 1741.4,1338.6 1745.2,1338.7 1749.1,1338.9 1753.0,1339.1 1756.8,1339.2 1760.7,1339.4 1764.5,1339.5 1768.4,1339.7 1772.3,1339.8 1776.1,1340.0 1780.0,1340.1 1783.9,1340.2 1787.7,1340.4 1791.6,1340.5 1795.5,1340.7 1799.3,1340.8 1803.2,1340.9 1807.1,1341.1 1810.9,1341.2 1814.8,1341.3 1818.7,1341.5 1822.5,1341.6 1826.4,1341.7 1830.3,1341.9 1834.1,1342.0 1838.0,1342.1 1841.9,1342.3 1845.7,1342.4 1849.6,1342.5 1853.5,1342.7 1855.8,1342.7"/>
<polyline class="cv" stroke="#ffff00" stroke-width="11.5" points="306.9,1325.0 310.8,1325.7 314.6,1326.2 318.5,1326.7 322.4,1327.2 326.2,1327.5 330.1,1327.8 334.0,1328.1 337.8,1328.3 341.7,1328.5 345.6,1328.7 349.4,1328.8 353.3,1329.0 357.2,1329.1 361.0,1329.3 364.9,1329.4 368.8,1329.6 372.6,1329.7 376.5,1329.8 380.4,1329.8 384.2,1329.9 388.1,1329.9 392.0,1329.9 395.8,1329.9 399.7,1329.8 403.6,1329.8 407.4,1329.7 411.3,1329.6 415.2,1329.5 419.0,1329.4 422.9,1329.2 426.8,1329.0 430.6,1328.9 434.5,1328.7 438.4,1328.5 442.2,1328.2 446.1,1328.0 450.0,1327.7 453.8,1327.5 457.7,1327.2 461.6,1326.9 465.4,1326.6 469.3,1326.3 473.2,1325.9 477.0,1325.6 480.9,1325.2 484.8,1324.9 488.6,1324.5 492.5,1324.1 496.4,1323.7 500.2,1323.3 504.1,1322.9 508.0,1322.5 511.8,1322.1 515.7,1321.6 519.6,1321.2 523.4,1320.7 527.3,1320.3 531.2,1319.9 535.0,1319.4 538.9,1319.0 542.8,1318.5 546.6,1318.1 550.5,1317.6 554.4,1317.2 558.2,1316.8 562.1,1316.3 566.0,1315.9 569.8,1315.5 573.7,1315.1 577.6,1314.7 581.4,1314.3 585.3,1313.9 589.2,1313.6 593.0,1313.2 596.9,1312.9 600.7,1312.6 604.6,1312.2 608.5,1311.9 612.3,1311.7 616.2,1311.4 620.1,1311.2 623.9,1311.0 627.8,1310.8 631.7,1310.6 635.5,1310.4 639.4,1310.2 643.3,1310.1 647.1,1310.0 651.0,1309.8 654.9,1309.7 658.7,1309.6 662.6,1309.5 666.5,1309.5 670.3,1309.4 674.2,1309.3 678.1,1309.3 681.9,1309.2 685.8,1309.1 689.7,1309.1 693.5,1309.0 697.4,1309.0 701.3,1308.9 705.1,1308.9 709.0,1308.9 712.9,1308.9 716.7,1308.9 720.6,1308.9 724.5,1308.9 728.3,1308.9 732.2,1308.9 736.1,1308.8 739.9,1308.8 743.8,1308.7 747.7,1308.7 751.5,1308.6 755.4,1308.5 759.3,1308.3 763.1,1308.1 767.0,1307.9 770.9,1307.6 774.7,1307.3 778.6,1306.9 782.5,1306.5 786.3,1306.0 790.2,1305.5 794.1,1305.0 797.9,1304.3 801.8,1303.7 805.7,1302.9 809.5,1302.1 813.4,1301.3 817.3,1300.4 821.1,1299.4 825.0,1298.4 828.9,1297.3 832.7,1296.3 836.6,1295.3 840.5,1294.5 844.3,1293.6 848.2,1292.8 852.1,1292.0 855.9,1291.1 859.8,1290.1 863.7,1289.0 867.5,1287.7 871.4,1286.3 875.3,1284.6 879.1,1282.7 883.0,1280.6 886.9,1278.5 890.7,1276.3 894.6,1274.1 898.5,1271.8 902.3,1269.4 906.2,1267.1 910.1,1264.7 913.9,1262.2 917.8,1259.7 921.7,1257.2 925.5,1254.7 929.4,1252.2 933.3,1249.6 937.1,1247.0 941.0,1244.3 944.9,1241.5 948.7,1238.7 952.6,1235.7 956.5,1232.7 960.3,1229.6 964.2,1226.3 968.1,1222.9 971.9,1219.3 975.8,1215.5 979.7,1211.6 983.5,1207.5 987.4,1203.2 991.3,1198.7 995.1,1194.1 999.0,1189.2 1002.9,1184.2 1006.7,1178.9 1010.6,1173.5 1014.5,1168.0 1018.3,1162.3 1022.2,1156.4 1026.1,1150.4 1029.9,1144.3 1033.8,1138.0 1037.7,1131.6 1041.5,1125.0 1045.4,1118.3 1049.3,1111.4 1053.1,1104.4 1057.0,1097.3 1060.9,1090.0 1064.7,1082.5 1068.6,1074.8 1072.5,1067.0 1076.3,1059.0 1080.2,1050.9 1084.1,1042.8 1087.9,1034.8 1091.8,1027.0 1095.7,1019.5 1099.5,1012.4 1103.4,1005.8 1107.3,999.7 1111.1,994.1 1115.0,989.2 1118.9,984.8 1122.7,980.9 1126.6,977.6 1130.5,974.9 1134.3,972.5 1138.2,970.6 1142.1,969.0 1145.9,967.5 1149.8,966.2 1153.7,964.9 1157.5,963.5 1161.4,962.0 1165.3,960.3 1169.1,958.4 1173.0,956.2 1176.8,953.5 1180.7,950.4 1184.6,946.8 1188.4,942.8 1192.3,938.2 1196.2,933.2 1200.0,927.6 1203.9,921.5 1207.8,914.9 1211.6,907.8 1215.5,900.2 1219.4,892.1 1223.2,883.5 1227.1,874.5 1231.0,865.0 1234.8,855.1 1238.7,844.8 1242.6,834.1 1246.4,823.2 1250.3,812.1 1254.2,800.8 1258.0,789.4 1261.9,778.1 1265.8,766.9 1269.6,755.8 1273.5,745.0 1277.4,734.4 1281.2,724.0 1285.1,714.0 1289.0,704.3 1292.8,695.0 1296.7,686.2 1300.6,677.8 1304.4,670.1 1308.3,663.2 1312.2,657.1 1316.0,652.0 1319.9,648.5 1323.8,647.1 1327.6,648.5 1331.5,653.0 1335.4,660.2 1339.2,669.6 1343.1,680.5 1347.0,692.7 1350.8,706.4 1354.7,722.5 1358.6,741.6 1362.4,764.1 1366.3,789.3 1370.2,816.2 1374.0,843.7 1377.9,870.7 1381.8,896.6 1385.6,921.3 1389.5,945.2 1393.4,968.6 1397.2,991.8 1401.1,1015.2 1405.0,1038.9 1408.8,1062.7 1412.7,1086.1 1416.6,1109.0 1420.4,1130.8 1424.3,1151.3 1428.2,1170.0 1432.0,1186.7 1435.9,1201.6 1439.8,1214.8 1443.6,1226.7 1447.5,1237.4 1451.4,1247.3 1455.2,1256.4 1459.1,1264.9 1463.0,1272.7 1466.8,1280.0 1470.7,1286.6 1474.6,1292.6 1478.4,1298.0 1482.3,1302.8 1486.2,1306.9 1490.0,1310.3 1493.9,1313.3 1497.8,1315.7 1501.6,1317.7 1505.5,1319.4 1509.4,1320.7 1513.2,1321.8 1517.1,1322.7 1521.0,1323.5 1524.8,1324.0 1528.7,1324.5 1532.6,1324.9 1536.4,1325.4 1540.3,1325.8 1544.2,1326.3 1548.0,1326.8 1551.9,1327.4 1555.8,1328.0 1559.6,1328.6 1563.5,1329.2 1567.4,1329.8 1571.2,1330.4 1575.1,1330.9 1579.0,1331.4 1582.8,1331.8 1586.7,1332.2 1590.6,1332.5 1594.4,1332.8 1598.3,1333.1 1602.2,1333.3 1606.0,1333.6 1609.9,1333.8 1613.8,1334.0 1617.6,1334.2 1621.5,1334.4 1625.4,1334.6 1629.2,1334.7 1633.1,1334.9 1637.0,1335.1 1640.8,1335.2 1644.7,1335.4 1648.6,1335.5 1652.4,1335.7 1656.3,1335.8 1660.2,1335.9 1664.0,1336.1 1667.9,1336.3 1671.8,1336.4 1675.6,1336.6 1679.5,1336.7 1683.4,1336.8 1687.2,1337.0 1691.1,1337.1 1695.0,1337.3 1698.8,1337.4 1702.7,1337.6 1706.6,1337.7 1710.4,1337.8 1714.3,1338.0 1718.2,1338.1 1722.0,1338.3 1725.9,1338.4 1729.8,1338.5 1733.6,1338.7 1737.5,1338.8 1741.4,1338.9 1745.2,1339.1 1749.1,1339.2 1753.0,1339.3 1756.8,1339.5 1760.7,1339.6 1764.5,1339.7 1768.4,1339.8 1772.3,1340.0 1776.1,1340.1 1780.0,1340.2 1783.9,1340.4 1787.7,1340.5 1791.6,1340.6 1795.5,1340.7 1799.3,1340.9 1803.2,1341.0 1807.1,1341.1 1810.9,1341.3 1814.8,1341.4 1818.7,1341.5 1822.5,1341.6 1826.4,1341.8 1830.3,1341.9 1834.1,1342.0 1838.0,1342.1 1841.9,1342.3 1845.7,1342.4 1849.6,1342.5 1853.5,1342.7 1855.8,1342.7"/>
<polyline class="cv" stroke="#ff0000" stroke-width="11.5" points="306.9,1331.8 310.8,1332.8 314.6,1333.6 318.5,1334.4 322.4,1335.2 326.2,1335.9 330.1,1336.5 334.0,1337.0 337.8,1337.6 341.7,1338.0 345.6,1338.4 349.4,1338.8 353.3,1339.1 357.2,1339.3 361.0,1339.6 364.9,1339.8 368.8,1339.9 372.6,1340.0 376.5,1340.1 380.4,1340.2 384.2,1340.3 388.1,1340.3 392.0,1340.3 395.8,1340.3 399.7,1340.2 403.6,1340.2 407.4,1340.1 411.3,1340.0 415.2,1339.9 419.0,1339.8 422.9,1339.7 426.8,1339.5 430.6,1339.3 434.5,1339.1 438.4,1338.9 442.2,1338.7 446.1,1338.5 450.0,1338.2 453.8,1338.0 457.7,1337.7 461.6,1337.4 465.4,1337.1 469.3,1336.8 473.2,1336.5 477.0,1336.2 480.9,1335.8 484.8,1335.5 488.6,1335.1 492.5,1334.8 496.4,1334.4 500.2,1334.0 504.1,1333.7 508.0,1333.3 511.8,1332.9 515.7,1332.5 519.6,1332.1 523.4,1331.7 527.3,1331.3 531.2,1330.9 535.0,1330.4 538.9,1330.0 542.8,1329.6 546.6,1329.2 550.5,1328.8 554.4,1328.4 558.2,1328.0 562.1,1327.7 566.0,1327.3 569.8,1326.9 573.7,1326.5 577.6,1326.2 581.4,1325.8 585.3,1325.5 589.2,1325.2 593.0,1324.9 596.9,1324.6 600.7,1324.3 604.6,1324.0 608.5,1323.8 612.3,1323.5 616.2,1323.3 620.1,1323.1 623.9,1322.9 627.8,1322.7 631.7,1322.6 635.5,1322.4 639.4,1322.3 643.3,1322.2 647.1,1322.1 651.0,1322.0 654.9,1321.9 658.7,1321.8 662.6,1321.7 666.5,1321.7 670.3,1321.6 674.2,1321.6 678.1,1321.5 681.9,1321.5 685.8,1321.4 689.7,1321.4 693.5,1321.3 697.4,1321.3 701.3,1321.2 705.1,1321.2 709.0,1321.1 712.9,1321.0 716.7,1321.0 720.6,1320.9 724.5,1320.8 728.3,1320.7 732.2,1320.6 736.1,1320.5 739.9,1320.3 743.8,1320.2 747.7,1320.0 751.5,1319.8 755.4,1319.6 759.3,1319.4 763.1,1319.2 767.0,1318.9 770.9,1318.6 774.7,1318.2 778.6,1317.8 782.5,1317.4 786.3,1317.0 790.2,1316.5 794.1,1315.9 797.9,1315.3 801.8,1314.7 805.7,1314.0 809.5,1313.3 813.4,1312.5 817.3,1311.6 821.1,1310.7 825.0,1309.8 828.9,1308.8 832.7,1307.7 836.6,1306.6 840.5,1305.4 844.3,1304.2 848.2,1302.9 852.1,1301.5 855.9,1300.1 859.8,1298.6 863.7,1297.1 867.5,1295.5 871.4,1293.8 875.3,1292.1 879.1,1290.4 883.0,1288.6 886.9,1286.7 890.7,1284.8 894.6,1282.8 898.5,1280.8 902.3,1278.8 906.2,1276.7 910.1,1274.6 913.9,1272.5 917.8,1270.4 921.7,1268.2 925.5,1266.0 929.4,1263.8 933.3,1261.5 937.1,1259.2 941.0,1256.9 944.9,1254.5 948.7,1252.0 952.6,1249.5 956.5,1246.8 960.3,1244.1 964.2,1241.2 968.1,1238.2 971.9,1235.1 975.8,1231.8 979.7,1228.4 983.5,1224.7 987.4,1221.0 991.3,1217.0 995.1,1212.9 999.0,1208.6 1002.9,1204.1 1006.7,1199.6 1010.6,1194.8 1014.5,1190.0 1018.3,1185.0 1022.2,1179.9 1026.1,1174.7 1029.9,1169.4 1033.8,1164.0 1037.7,1158.5 1041.5,1152.9 1045.4,1147.1 1049.3,1141.3 1053.1,1135.3 1057.0,1129.1 1060.9,1122.8 1064.7,1116.3 1068.6,1109.6 1072.5,1102.7 1076.3,1095.6 1080.2,1088.4 1084.1,1081.1 1087.9,1073.9 1091.8,1066.9 1095.7,1060.1 1099.5,1053.6 1103.4,1047.6 1107.3,1042.0 1111.1,1037.0 1115.0,1032.5 1118.9,1028.5 1122.7,1025.0 1126.6,1021.9 1130.5,1019.4 1134.3,1017.3 1138.2,1015.5 1142.1,1013.9 1145.9,1012.5 1149.8,1011.2 1153.7,1010.0 1157.5,1008.6 1161.4,1007.2 1165.3,1005.6 1169.1,1003.8 1173.0,1001.7 1176.8,999.2 1180.7,996.3 1184.6,993.0 1188.4,989.2 1192.3,985.0 1196.2,980.4 1200.0,975.3 1203.9,969.8 1207.8,963.8 1211.6,957.4 1215.5,950.6 1219.4,943.3 1223.2,935.7 1227.1,927.6 1231.0,919.2 1234.8,910.5 1238.7,901.4 1242.6,892.1 1246.4,882.5 1250.3,872.7 1254.2,862.9 1258.0,853.0 1261.9,843.1 1265.8,833.3 1269.6,823.6 1273.5,814.1 1277.4,804.7 1281.2,795.6 1285.1,786.7 1289.0,778.1 1292.8,769.7 1296.7,761.7 1300.6,754.2 1304.4,747.3 1308.3,741.1 1312.2,735.7 1316.0,731.4 1319.9,728.6 1323.8,727.8 1327.6,729.4 1331.5,733.8 1335.4,740.6 1339.2,749.1 1343.1,758.7 1347.0,769.2 1350.8,781.0 1354.7,795.0 1358.6,812.1 1362.4,832.6 1366.3,855.8 1370.2,880.6 1374.0,905.7 1377.9,930.1 1381.8,952.8 1385.6,974.0 1389.5,994.2 1393.4,1013.8 1397.2,1033.4 1401.1,1053.4 1405.0,1074.0 1408.8,1095.1 1412.7,1116.2 1416.6,1136.9 1420.4,1156.8 1424.3,1175.5 1428.2,1192.5 1432.0,1207.7 1435.9,1221.0 1439.8,1232.8 1443.6,1243.3 1447.5,1252.6 1451.4,1261.1 1455.2,1268.9 1459.1,1276.2 1463.0,1282.8 1466.8,1288.9 1470.7,1294.5 1474.6,1299.7 1478.4,1304.4 1482.3,1308.6 1486.2,1312.5 1490.0,1316.1 1493.9,1319.3 1497.8,1322.1 1501.6,1324.7 1505.5,1327.0 1509.4,1329.1 1513.2,1330.9 1517.1,1332.4 1521.0,1333.8 1524.8,1335.0 1528.7,1336.0 1532.6,1336.9 1536.4,1337.6 1540.3,1338.2 1544.2,1338.7 1548.0,1339.1 1551.9,1339.4 1555.8,1339.7 1559.6,1339.9 1563.5,1340.1 1567.4,1340.3 1571.2,1340.4 1575.1,1340.6 1579.0,1340.7 1582.8,1340.8 1586.7,1340.9 1590.6,1341.0 1594.4,1341.1 1598.3,1341.2 1602.2,1341.3 1606.0,1341.4 1609.9,1341.4 1613.8,1341.5 1617.6,1341.5 1621.5,1341.6 1625.4,1341.6 1629.2,1341.6 1633.1,1341.6 1637.0,1341.7 1640.8,1341.7 1644.7,1341.7 1648.6,1341.7 1652.4,1341.7 1656.3,1341.7 1660.2,1341.7 1664.0,1341.7 1667.9,1341.7 1671.8,1341.7 1675.6,1341.7 1679.5,1341.7 1683.4,1341.7 1687.2,1341.7 1691.1,1341.7 1695.0,1341.7 1698.8,1341.7 1702.7,1341.8 1706.6,1341.8 1710.4,1341.8 1714.3,1341.8 1718.2,1341.8 1722.0,1341.8 1725.9,1341.8 1729.8,1341.8 1733.6,1341.8 1737.5,1341.8 1741.4,1341.8 1745.2,1341.8 1749.1,1341.8 1753.0,1341.8 1756.8,1341.8 1760.7,1341.8 1764.5,1341.7 1768.4,1341.7 1772.3,1341.7 1776.1,1341.7 1780.0,1341.7 1783.9,1341.7 1787.7,1341.7 1791.6,1341.7 1795.5,1341.7 1799.3,1341.7 1803.2,1341.7 1807.1,1341.7 1810.9,1341.7 1814.8,1341.7 1818.7,1341.7 1822.5,1341.7 1826.4,1341.7 1830.3,1341.7 1834.1,1341.7 1838.0,1341.7 1841.9,1341.7 1845.7,1341.8 1849.6,1341.8 1853.5,1341.8 1855.8,1341.8"/>
</g>
<rect class="ax" x="306.9" y="58.6" width="1739.9" height="1288.3" stroke-width="4.2"/>
<path class="ax" stroke-width="4" d="M306.9 1346.9 v24 M498.2 1346.9 v13 M692.4 1346.9 v24 M885 1346.9 v13 M1080.2 1346.9 v24 M1273.9 1346.9 v13 M1465.6 1346.9 v24 M1660 1346.9 v13 M1854.8 1346.9 v24 M2046.8 1346.9 v13 M306.9 1346.3 h-29 M306.9 1216.7 h-13.5 M306.9 1090.9 h-29 M306.9 961.3 h-13.5 M306.9 830.8 h-29 M306.9 704.9 h-13.5 M306.9 574.9 h-29 M306.9 444.5 h-13.5 M306.9 318.9 h-29 M306.9 189 h-13.5 M306.9 59.4 h-29"/>
<text x="302.9" y="1442.5" font-size="67" class="tl" text-anchor="middle" textLength="101.5" lengthAdjust="spacing">400</text>
<text x="691" y="1442.5" font-size="67" class="tl" text-anchor="middle" textLength="101.5" lengthAdjust="spacing">500</text>
<text x="1079.6" y="1442.5" font-size="67" class="tl" text-anchor="middle" textLength="101.5" lengthAdjust="spacing">600</text>
<text x="1466" y="1442.5" font-size="67" class="tl" text-anchor="middle" textLength="101.5" lengthAdjust="spacing">700</text>
<text x="1852" y="1442.5" font-size="67" class="tl" text-anchor="middle" textLength="101.5" lengthAdjust="spacing">800</text>
<text x="256.5" y="1364.3" font-size="67" class="tl" text-anchor="end" textLength="85" lengthAdjust="spacing">0.0</text>
<text x="256.5" y="1108.9" font-size="67" class="tl" text-anchor="end" textLength="85" lengthAdjust="spacing">0.2</text>
<text x="256.5" y="852.1" font-size="67" class="tl" text-anchor="end" textLength="85" lengthAdjust="spacing">0.4</text>
<text x="256.5" y="594.8" font-size="67" class="tl" text-anchor="end" textLength="85" lengthAdjust="spacing">0.6</text>
<text x="256.5" y="336.1" font-size="67" class="tl" text-anchor="end" textLength="85" lengthAdjust="spacing">0.8</text>
<text x="256.5" y="80.6" font-size="67" class="tl" text-anchor="end" textLength="85" lengthAdjust="spacing">1.0</text>
<text x="918.6" y="1556.8" font-size="67" class="tl">W<tspan x="984" textLength="447" lengthAdjust="spacing">avelength (nm)</tspan></text>
<text x="134.1" y="875.3" font-size="68" class="tl" textLength="358.8" lengthAdjust="spacing" transform="rotate(-90 134.1 875.3)">Absorbance</text>
<text x="350.5" y="151.5" font-size="63" class="tt"><tspan>MnCo</tspan><tspan x="524.4" dy="19.6" font-weight="normal" stroke="#000" stroke-width="2.1" stroke-linejoin="round">2</tspan><tspan x="560.7" dy="-19.6" font-weight="normal" stroke="#000" stroke-width="2.1" stroke-linejoin="round">O</tspan><tspan x="610.2" dy="19.6" font-weight="normal" stroke="#000" stroke-width="2.1" stroke-linejoin="round">4</tspan><tspan x="645.3" dy="-19.6">-Neat</tspan></text>
<line x1="1726.4" y1="150" x2="1830.5" y2="150" stroke="#000000" stroke-width="12" stroke-linecap="round"/>
<text x="1841.5" y="163" font-size="44" class="tl">Z<tspan dx="4.5">ero</tspan></text>
<line x1="1726.4" y1="208.1" x2="1830.5" y2="208.1" stroke="#800000" stroke-width="12" stroke-linecap="round"/>
<text x="1841.5" y="221.1" font-size="44" class="tl">20</text>
<line x1="1726.4" y1="266.2" x2="1830.5" y2="266.2" stroke="#00ffff" stroke-width="12" stroke-linecap="round"/>
<text x="1841.5" y="279.2" font-size="44" class="tl">40</text>
<line x1="1726.4" y1="324.3" x2="1830.5" y2="324.3" stroke="#008000" stroke-width="12" stroke-linecap="round"/>
<text x="1841.5" y="337.3" font-size="44" class="tl">60</text>
<line x1="1726.4" y1="382.4" x2="1830.5" y2="382.4" stroke="#ff8000" stroke-width="12" stroke-linecap="round"/>
<text x="1841.5" y="395.4" font-size="44" class="tl">80</text>
<line x1="1726.4" y1="440.5" x2="1830.5" y2="440.5" stroke="#ffff00" stroke-width="12" stroke-linecap="round"/>
<text x="1841.5" y="453.5" font-size="44" class="tl" textLength="68" lengthAdjust="spacing">100</text>
<line x1="1726.4" y1="498.6" x2="1830.5" y2="498.6" stroke="#ff0000" stroke-width="12" stroke-linecap="round"/>
<text x="1841.5" y="511.6" font-size="44" class="tl" textLength="69" lengthAdjust="spacing">120</text>
</g>
<g id="chart2">
<clipPath id="clip2"><rect x="261.3" y="1683.4" width="1739.4" height="1290.2"/></clipPath>
<g clip-path="url(#clip2)">
<polyline class="cv" stroke="#000000" stroke-width="9.8" points="732.9,2996.9 736.7,2993.6 740.6,2990.2 744.5,2986.8 748.3,2983.3 752.2,2980.0 756.1,2976.8 759.9,2973.8 763.8,2971.0 767.7,2968.6 771.5,2966.5 775.4,2964.6 779.3,2963.0 783.1,2961.5 787.0,2960.1 790.9,2958.8 794.7,2957.6 798.6,2956.4 802.4,2955.1 806.3,2953.8 810.2,2952.3 814.0,2950.7 817.9,2948.8 821.8,2946.8 825.6,2944.4 829.5,2941.8 833.4,2939.0 837.2,2935.9 841.1,2932.5 845.0,2929.0 848.8,2925.2 852.7,2921.3 856.6,2917.2 860.4,2913.0 864.3,2908.6 868.2,2904.0 872.0,2899.4 875.9,2894.7 879.8,2889.9 883.6,2885.0 887.5,2880.0 891.3,2874.9 895.2,2869.7 899.1,2864.4 902.9,2859.0 906.8,2853.3 910.7,2847.6 914.5,2841.6 918.4,2835.4 922.3,2829.1 926.1,2822.5 930.0,2815.6 933.9,2808.5 937.7,2801.2 941.6,2793.5 945.5,2785.6 949.3,2777.4 953.2,2768.9 957.1,2760.1 960.9,2751.0 964.8,2741.6 968.7,2732.0 972.5,2722.0 976.4,2711.7 980.3,2701.2 984.1,2690.4 988.0,2679.2 991.8,2667.8 995.7,2656.1 999.6,2644.0 1003.4,2631.6 1007.3,2619.0 1011.2,2606.0 1015.0,2592.6 1018.9,2579.0 1022.8,2565.0 1026.6,2550.6 1030.5,2536.0 1034.4,2521.3 1038.2,2506.7 1042.1,2492.5 1046.0,2478.9 1049.8,2466.3 1053.7,2454.8 1057.6,2444.6 1061.4,2436.1 1065.3,2429.0 1069.2,2423.0 1073.0,2418.0 1076.9,2413.8 1080.8,2410.1 1084.6,2406.7 1088.5,2403.6 1092.3,2400.8 1096.2,2398.4 1100.1,2396.4 1103.9,2394.8 1107.8,2393.5 1111.7,2392.5 1115.5,2391.5 1119.4,2390.3 1123.3,2388.8 1127.1,2386.7 1131.0,2384.0 1134.9,2380.3 1138.7,2375.7 1142.6,2370.1 1146.5,2363.7 1150.3,2356.2 1154.2,2347.8 1158.1,2338.4 1161.9,2328.0 1165.8,2316.7 1169.7,2304.4 1173.5,2291.1 1177.4,2276.9 1181.2,2261.7 1185.1,2245.5 1189.0,2228.4 1192.8,2210.4 1196.7,2191.7 1200.6,2172.4 1204.4,2152.7 1208.3,2132.8 1212.2,2113.0 1216.0,2093.3 1219.9,2074.0 1223.8,2055.2 1227.6,2036.9 1231.5,2019.2 1235.4,2002.0 1239.2,1985.2 1243.1,1968.9 1247.0,1953.0 1250.8,1937.5 1254.7,1922.7 1258.6,1908.8 1262.4,1896.1 1266.3,1884.7 1270.2,1875.1 1274.0,1867.4 1277.9,1862.1 1281.7,1859.3 1285.6,1859.6 1289.5,1863.4 1293.3,1871.3 1297.2,1883.9 1301.1,1901.7 1304.9,1924.7 1308.8,1952.7 1312.7,1985.7 1316.5,2023.3 1320.4,2065.1 1324.3,2110.1 1328.1,2157.8 1332.0,2207.4 1335.9,2258.2 1339.7,2309.3 1343.6,2360.1 1347.5,2409.8 1351.3,2457.6 1355.2,2502.9 1359.1,2544.9 1362.9,2583.9 1366.8,2620.1 1370.7,2653.8 1374.5,2685.4 1378.4,2715.0 1382.2,2743.1 1386.1,2769.8 1390.0,2795.2 1393.8,2819.2 1397.7,2841.9 1401.6,2863.2 1405.4,2883.1 1409.3,2901.7 1413.2,2919.0 1417.0,2935.2 1420.9,2950.6 1424.8,2965.4 1428.6,2979.6 1432.5,2993.6 1436.4,3007.5 1440.2,3021.5 1444.1,3035.9 1448.0,3050.8 1451.8,3066.6 1455.7,3083.4 1459.6,3101.4"/>
<polyline class="cv" stroke="#00ffff" stroke-width="9.8" points="732.9,2997.5 736.7,2994.0 740.6,2990.8 744.5,2987.6 748.3,2984.7 752.2,2981.9 756.1,2979.2 759.9,2976.6 763.8,2974.1 767.7,2971.8 771.5,2969.6 775.4,2967.4 779.3,2965.3 783.1,2963.3 787.0,2961.3 790.9,2959.4 794.7,2957.5 798.6,2955.5 802.4,2953.6 806.3,2951.7 810.2,2949.7 814.0,2947.8 817.9,2945.7 821.8,2943.6 825.6,2941.4 829.5,2939.1 833.4,2936.8 837.2,2934.4 841.1,2931.9 845.0,2929.3 848.8,2926.7 852.7,2924.1 856.6,2921.4 860.4,2918.6 864.3,2915.8 868.2,2913.0 872.0,2910.1 875.9,2907.2 879.8,2904.2 883.6,2901.2 887.5,2898.2 891.3,2895.1 895.2,2892.0 899.1,2888.7 902.9,2885.4 906.8,2882.0 910.7,2878.4 914.5,2874.7 918.4,2870.9 922.3,2866.9 926.1,2862.7 930.0,2858.3 933.9,2853.7 937.7,2848.9 941.6,2843.9 945.5,2838.7 949.3,2833.1 953.2,2827.3 957.1,2821.3 960.9,2814.9 964.8,2808.2 968.7,2801.1 972.5,2793.7 976.4,2786.0 980.3,2777.8 984.1,2769.3 988.0,2760.4 991.8,2751.0 995.7,2741.3 999.6,2731.2 1003.4,2720.7 1007.3,2709.9 1011.2,2698.8 1015.0,2687.4 1018.9,2675.7 1022.8,2663.8 1026.6,2651.7 1030.5,2639.4 1034.4,2627.1 1038.2,2615.0 1042.1,2603.1 1046.0,2591.6 1049.8,2580.8 1053.7,2570.7 1057.6,2561.5 1061.4,2553.4 1065.3,2546.2 1069.2,2540.0 1073.0,2534.5 1076.9,2529.6 1080.8,2525.3 1084.6,2521.5 1088.5,2518.2 1092.3,2515.3 1096.2,2513.0 1100.1,2511.0 1103.9,2509.6 1107.8,2508.6 1111.7,2507.9 1115.5,2507.5 1119.4,2507.0 1123.3,2506.5 1127.1,2505.7 1131.0,2504.5 1134.9,2502.8 1138.7,2500.4 1142.6,2497.4 1146.5,2493.6 1150.3,2488.9 1154.2,2483.3 1158.1,2476.7 1161.9,2469.0 1165.8,2460.3 1169.7,2450.6 1173.5,2440.0 1177.4,2428.5 1181.2,2416.2 1185.1,2403.2 1189.0,2389.4 1192.8,2375.1 1196.7,2360.2 1200.6,2344.8 1204.4,2329.2 1208.3,2313.2 1212.2,2297.2 1216.0,2281.1 1219.9,2265.1 1223.8,2249.2 1227.6,2233.6 1231.5,2218.3 1235.4,2203.4 1239.2,2189.0 1243.1,2175.2 1247.0,2162.0 1250.8,2149.5 1254.7,2137.5 1258.6,2126.1 1262.4,2114.9 1266.3,2103.9 1270.2,2093.3 1274.0,2084.3 1277.9,2078.7 1281.7,2078.0 1285.6,2083.4 1289.5,2094.3 1293.3,2109.6 1297.2,2128.1 1301.1,2148.8 1304.9,2171.0 1308.8,2194.2 1312.7,2217.8 1316.5,2241.3 1320.4,2265.7 1324.3,2291.8 1328.1,2320.6 1332.0,2353.2 1335.9,2390.2 1339.7,2430.4 1343.6,2472.3 1347.5,2514.5 1351.3,2555.2 1355.2,2593.2 1359.1,2627.1 1362.9,2657.4 1366.8,2684.8 1370.7,2710.1 1374.5,2734.0 1378.4,2757.3 1382.2,2780.7 1386.1,2804.7 1390.0,2828.7 1393.8,2851.9 1397.7,2873.5 1401.6,2892.6 1405.4,2908.5 1409.3,2920.6 1413.2,2929.5 1417.0,2936.3 1420.9,2942.0 1424.8,2947.5 1428.6,2953.9 1432.5,2961.9 1436.4,2971.4 1440.2,2982.4 1444.1,2994.6 1448.0,3007.8 1451.8,3021.8 1455.7,3036.3 1459.6,3051.3 1463.4,3066.5 1467.3,3082.7 1471.1,3100.7"/>
<polyline class="cv" stroke="#800000" stroke-width="9.8" points="771.5,2997.8 775.4,2993.6 779.3,2989.7 783.1,2986.2 787.0,2983.0 790.9,2980.0 794.7,2977.2 798.6,2974.5 802.4,2972.0 806.3,2969.4 810.2,2966.9 814.0,2964.3 817.9,2961.7 821.8,2958.9 825.6,2955.9 829.5,2952.7 833.4,2949.4 837.2,2945.9 841.1,2942.3 845.0,2938.6 848.8,2934.7 852.7,2930.8 856.6,2926.7 860.4,2922.6 864.3,2918.4 868.2,2914.1 872.0,2909.8 875.9,2905.4 879.8,2901.1 883.6,2896.7 887.5,2892.3 891.3,2887.9 895.2,2883.4 899.1,2878.8 902.9,2874.2 906.8,2869.5 910.7,2864.6 914.5,2859.7 918.4,2854.6 922.3,2849.3 926.1,2843.9 930.0,2838.2 933.9,2832.4 937.7,2826.4 941.6,2820.1 945.5,2813.6 949.3,2806.9 953.2,2799.9 957.1,2792.6 960.9,2785.0 964.8,2777.2 968.7,2769.0 972.5,2760.5 976.4,2751.7 980.3,2742.6 984.1,2733.1 988.0,2723.3 991.8,2713.1 995.7,2702.5 999.6,2691.6 1003.4,2680.3 1007.3,2668.8 1011.2,2656.9 1015.0,2644.8 1018.9,2632.3 1022.8,2619.6 1026.6,2606.6 1030.5,2593.4 1034.4,2580.2 1038.2,2567.1 1042.1,2554.3 1046.0,2542.1 1049.8,2530.7 1053.7,2520.2 1057.6,2510.8 1061.4,2502.8 1065.3,2495.9 1069.2,2490.0 1073.0,2485.0 1076.9,2480.6 1080.8,2476.7 1084.6,2473.2 1088.5,2470.0 1092.3,2467.1 1096.2,2464.5 1100.1,2462.3 1103.9,2460.4 1107.8,2458.8 1111.7,2457.5 1115.5,2456.3 1119.4,2455.1 1123.3,2453.9 1127.1,2452.5 1131.0,2450.8 1134.9,2448.7 1138.7,2446.1 1142.6,2442.8 1146.5,2438.7 1150.3,2433.6 1154.2,2427.5 1158.1,2420.1 1161.9,2411.4 1165.8,2401.4 1169.7,2390.1 1173.5,2377.8 1177.4,2364.3 1181.2,2349.9 1185.1,2334.5 1189.0,2318.3 1192.8,2301.4 1196.7,2283.9 1200.6,2265.9 1204.4,2247.7 1208.3,2229.4 1212.2,2211.1 1216.0,2193.2 1219.9,2175.6 1223.8,2158.6 1227.6,2142.0 1231.5,2125.9 1235.4,2110.0 1239.2,2094.4 1243.1,2078.9 1247.0,2063.5 1250.8,2048.1 1254.7,2033.2 1258.6,2019.2 1262.4,2006.6 1266.3,1996.0 1270.2,1987.7 1274.0,1981.9 1277.9,1978.7 1281.7,1978.1 1285.6,1980.2 1289.5,1985.9 1293.3,1996.1 1297.2,2011.6 1301.1,2032.9 1304.9,2058.9 1308.8,2087.8 1312.7,2118.1 1316.5,2148.6 1320.4,2179.9 1324.3,2212.9 1328.1,2248.6 1332.0,2288.1 1335.9,2331.9 1339.7,2378.8 1343.6,2427.1 1347.5,2475.4 1351.3,2521.8 1355.2,2564.9 1359.1,2603.4 1362.9,2637.6 1366.8,2668.3 1370.7,2696.3 1374.5,2722.3 1378.4,2747.2 1382.2,2771.7 1386.1,2796.2 1390.0,2820.5 1393.8,2843.8 1397.7,2865.5 1401.6,2884.9 1405.4,2901.3 1409.3,2914.5 1413.2,2924.9 1417.0,2933.5 1420.9,2941.3 1424.8,2949.1 1428.6,2957.8 1432.5,2968.1 1436.4,2980.0 1440.2,2993.1 1444.1,3007.2 1448.0,3021.9 1451.8,3037.0 1455.7,3052.1 1459.6,3067.1 1463.4,3082.3 1467.3,3101.0"/>
<polyline class="cv" stroke="#008000" stroke-width="9.8" points="261.3,2952.2 265.2,2952.7 269.0,2953.2 272.9,2953.6 276.8,2953.9 280.6,2954.2 284.5,2954.4 288.4,2954.6 292.2,2954.8 296.1,2954.9 300.0,2955.0 303.8,2955.1 307.7,2955.1 311.5,2955.1 315.4,2955.1 319.3,2955.1 323.1,2955.1 327.0,2955.1 330.9,2955.0 334.7,2955.0 338.6,2955.0 342.5,2954.9 346.3,2954.9 350.2,2954.9 354.1,2954.9 357.9,2954.9 361.8,2954.9 365.7,2954.9 369.5,2954.9 373.4,2954.9 377.3,2954.9 381.1,2954.9 385.0,2954.9 388.9,2954.9 392.7,2954.9 396.6,2954.9 400.5,2954.8 404.3,2954.8 408.2,2954.8 412.0,2954.7 415.9,2954.7 419.8,2954.6 423.6,2954.6 427.5,2954.5 431.4,2954.4 435.2,2954.3 439.1,2954.2 443.0,2954.1 446.8,2954.0 450.7,2953.8 454.6,2953.6 458.4,2953.4 462.3,2953.2 466.2,2953.0 470.0,2952.8 473.9,2952.6 477.8,2952.3 481.6,2952.0 485.5,2951.7 489.4,2951.5 493.2,2951.2 497.1,2950.8 501.0,2950.5 504.8,2950.2 508.7,2949.9 512.5,2949.5 516.4,2949.2 520.3,2948.8 524.1,2948.4 528.0,2948.1 531.9,2947.7 535.7,2947.3 539.6,2947.0 543.5,2946.6 547.3,2946.2 551.2,2945.9 555.1,2945.5 558.9,2945.1 562.8,2944.7 566.7,2944.4 570.5,2944.0 574.4,2943.7 578.3,2943.3 582.1,2943.0 586.0,2942.6 589.9,2942.3 593.7,2942.0 597.6,2941.6 601.4,2941.3 605.3,2941.0 609.2,2940.7 613.0,2940.4 616.9,2940.1 620.8,2939.8 624.6,2939.6 628.5,2939.3 632.4,2939.0 636.2,2938.8 640.1,2938.5 644.0,2938.3 647.8,2938.1 651.7,2937.9 655.6,2937.7 659.4,2937.5 663.3,2937.3 667.2,2937.1 671.0,2936.9 674.9,2936.8 678.8,2936.6 682.6,2936.5 686.5,2936.4 690.4,2936.3 694.2,2936.2 698.1,2936.1 701.9,2936.0 705.8,2935.9 709.7,2935.8 713.5,2935.7 717.4,2935.5 721.3,2935.4 725.1,2935.2 729.0,2935.0 732.9,2934.8 736.7,2934.5 740.6,2934.2 744.5,2933.8 748.3,2933.4 752.2,2933.0 756.1,2932.5 759.9,2931.9 763.8,2931.3 767.7,2930.6 771.5,2929.8 775.4,2929.0 779.3,2928.1 783.1,2927.2 787.0,2926.2 790.9,2925.2 794.7,2924.1 798.6,2923.0 802.4,2921.9 806.3,2920.7 810.2,2919.5 814.0,2918.2 817.9,2917.0 821.8,2915.7 825.6,2914.4 829.5,2913.0 833.4,2911.6 837.2,2910.2 841.1,2908.8 845.0,2907.3 848.8,2905.7 852.7,2904.1 856.6,2902.5 860.4,2900.7 864.3,2898.9 868.2,2897.0 872.0,2895.1 875.9,2893.0 879.8,2890.9 883.6,2888.6 887.5,2886.3 891.3,2883.9 895.2,2881.3 899.1,2878.7 902.9,2875.9 906.8,2873.0 910.7,2870.1 914.5,2867.0 918.4,2863.8 922.3,2860.4 926.1,2857.0 930.0,2853.4 933.9,2849.8 937.7,2846.0 941.6,2842.0 945.5,2837.9 949.3,2833.7 953.2,2829.3 957.1,2824.7 960.9,2819.9 964.8,2814.9 968.7,2809.6 972.5,2804.0 976.4,2798.2 980.3,2792.1 984.1,2785.7 988.0,2779.0 991.8,2771.9 995.7,2764.5 999.6,2756.9 1003.4,2749.2 1007.3,2741.3 1011.2,2733.4 1015.0,2725.6 1018.9,2717.8 1022.8,2710.1 1026.6,2702.7 1030.5,2695.4 1034.4,2688.4 1038.2,2681.6 1042.1,2675.0 1046.0,2668.4 1049.8,2662.0 1053.7,2655.6 1057.6,2649.1 1061.4,2642.7 1065.3,2636.5 1069.2,2630.5 1073.0,2625.1 1076.9,2620.4 1080.8,2616.4 1084.6,2613.5 1088.5,2611.4 1092.3,2609.8 1096.2,2608.5 1100.1,2607.3 1103.9,2605.9 1107.8,2604.1 1111.7,2602.1 1115.5,2599.8 1119.4,2597.5 1123.3,2595.3 1127.1,2593.1 1131.0,2591.3 1134.9,2589.7 1138.7,2588.3 1142.6,2586.7 1146.5,2584.7 1150.3,2582.1 1154.2,2578.6 1158.1,2574.0 1161.9,2568.0 1165.8,2560.7 1169.7,2552.2 1173.5,2542.6 1177.4,2532.1 1181.2,2520.6 1185.1,2508.3 1189.0,2495.4 1192.8,2481.9 1196.7,2467.9 1200.6,2453.8 1204.4,2439.7 1208.3,2425.7 1212.2,2412.1 1216.0,2399.0 1219.9,2386.7 1223.8,2375.2 1227.6,2364.6 1231.5,2354.6 1235.4,2345.3 1239.2,2336.4 1243.1,2327.8 1247.0,2319.5 1250.8,2311.4 1254.7,2303.7 1258.6,2296.7 1262.4,2290.6 1266.3,2285.8 1270.2,2282.4 1274.0,2280.4 1277.9,2279.7 1281.7,2280.3 1285.6,2282.0 1289.5,2285.2 1293.3,2289.9 1297.2,2296.4 1301.1,2304.9 1304.9,2315.6 1308.8,2328.9 1312.7,2344.8 1316.5,2363.7 1320.4,2385.3 1324.3,2409.2 1328.1,2435.0 1332.0,2462.5 1335.9,2491.3 1339.7,2520.9 1343.6,2551.0 1347.5,2581.0 1351.3,2610.5 1355.2,2639.1 1359.1,2666.4 1362.9,2692.2 1366.8,2716.4 1370.7,2738.9 1374.5,2759.8 1378.4,2778.8 1382.2,2795.9 1386.1,2811.0 1390.0,2824.5 1393.8,2836.6 1397.7,2847.5 1401.6,2857.7 1405.4,2867.4 1409.3,2876.9 1413.2,2886.0 1417.0,2894.7 1420.9,2902.8 1424.8,2910.2 1428.6,2916.7 1432.5,2922.4 1436.4,2927.1 1440.2,2931.2 1444.1,2934.5 1448.0,2937.3 1451.8,2939.7 1455.7,2941.7 1459.6,2943.5 1463.4,2945.2 1467.3,2946.7 1471.1,2948.1 1475.0,2949.4 1478.9,2950.6 1482.7,2951.7 1486.6,2952.7 1490.5,2953.6 1494.3,2954.5 1498.2,2955.2 1502.1,2955.9 1505.9,2956.6 1509.8,2957.2 1513.7,2957.7 1517.5,2958.2 1521.4,2958.7 1525.3,2959.1 1529.1,2959.5 1533.0,2959.8 1536.9,2960.2 1540.7,2960.5 1544.6,2960.8 1548.5,2961.0 1552.3,2961.2 1556.2,2961.4 1560.1,2961.6 1563.9,2961.8 1567.8,2962.0 1571.6,2962.1 1575.5,2962.2 1579.4,2962.3 1583.2,2962.4 1587.1,2962.5 1591.0,2962.6 1594.8,2962.7 1598.7,2962.7 1602.6,2962.8 1606.4,2962.8 1610.3,2962.9 1614.2,2963.0 1618.0,2963.0 1621.9,2963.1 1625.8,2963.1 1629.6,2963.2 1633.5,2963.3 1637.4,2963.3 1641.2,2963.4 1645.1,2963.4 1649.0,2963.5 1652.8,2963.6 1656.7,2963.6 1660.6,2963.7 1664.4,2963.8 1668.3,2963.8 1672.1,2963.9 1676.0,2964.0 1679.9,2964.0 1683.7,2964.1 1687.6,2964.2 1691.5,2964.2 1695.3,2964.3 1699.2,2964.3 1703.1,2964.4 1706.9,2964.5 1710.8,2964.5 1714.7,2964.6 1718.5,2964.6 1722.4,2964.7 1726.3,2964.7 1730.1,2964.8 1734.0,2964.8 1737.9,2964.9 1741.7,2964.9 1745.6,2964.9 1749.5,2965.0 1753.3,2965.0 1757.2,2965.0 1761.0,2965.1 1764.9,2965.1 1768.8,2965.1 1772.6,2965.1 1776.5,2965.1 1780.4,2965.1 1784.2,2965.1 1788.1,2965.1 1792.0,2965.1 1795.8,2965.1 1799.7,2965.1 1803.6,2965.1 1807.4,2965.0 1809.8,2965.0"/>
<polyline class="cv" stroke="#ff8000" stroke-width="9.8" points="261.3,2954.5 265.2,2954.9 269.0,2955.2 272.9,2955.6 276.8,2955.8 280.6,2956.1 284.5,2956.3 288.4,2956.4 292.2,2956.6 296.1,2956.7 300.0,2956.8 303.8,2956.8 307.7,2956.9 311.5,2956.9 315.4,2956.9 319.3,2956.9 323.1,2956.9 327.0,2956.9 330.9,2956.8 334.7,2956.8 338.6,2956.8 342.5,2956.8 346.3,2956.7 350.2,2956.7 354.1,2956.7 357.9,2956.7 361.8,2956.7 365.7,2956.7 369.5,2956.7 373.4,2956.6 377.3,2956.6 381.1,2956.6 385.0,2956.6 388.9,2956.6 392.7,2956.5 396.6,2956.5 400.5,2956.5 404.3,2956.4 408.2,2956.4 412.0,2956.3 415.9,2956.3 419.8,2956.2 423.6,2956.2 427.5,2956.1 431.4,2956.0 435.2,2955.9 439.1,2955.8 443.0,2955.7 446.8,2955.6 450.7,2955.4 454.6,2955.3 458.4,2955.1 462.3,2954.9 466.2,2954.8 470.0,2954.6 473.9,2954.4 477.8,2954.2 481.6,2953.9 485.5,2953.7 489.4,2953.5 493.2,2953.2 497.1,2953.0 501.0,2952.7 504.8,2952.4 508.7,2952.2 512.5,2951.9 516.4,2951.6 520.3,2951.3 524.1,2951.0 528.0,2950.7 531.9,2950.4 535.7,2950.1 539.6,2949.8 543.5,2949.5 547.3,2949.2 551.2,2948.9 555.1,2948.6 558.9,2948.3 562.8,2948.0 566.7,2947.7 570.5,2947.4 574.4,2947.1 578.3,2946.8 582.1,2946.5 586.0,2946.2 589.9,2945.9 593.7,2945.6 597.6,2945.3 601.4,2945.0 605.3,2944.7 609.2,2944.4 613.0,2944.2 616.9,2943.9 620.8,2943.6 624.6,2943.4 628.5,2943.2 632.4,2942.9 636.2,2942.7 640.1,2942.5 644.0,2942.3 647.8,2942.1 651.7,2941.9 655.6,2941.7 659.4,2941.5 663.3,2941.4 667.2,2941.2 671.0,2941.1 674.9,2940.9 678.8,2940.8 682.6,2940.7 686.5,2940.6 690.4,2940.6 694.2,2940.5 698.1,2940.5 701.9,2940.4 705.8,2940.3 709.7,2940.3 713.5,2940.2 717.4,2940.1 721.3,2940.0 725.1,2939.9 729.0,2939.8 732.9,2939.6 736.7,2939.4 740.6,2939.2 744.5,2939.0 748.3,2938.6 752.2,2938.3 756.1,2937.9 759.9,2937.4 763.8,2936.9 767.7,2936.4 771.5,2935.8 775.4,2935.1 779.3,2934.4 783.1,2933.6 787.0,2932.8 790.9,2931.9 794.7,2931.0 798.6,2930.0 802.4,2929.0 806.3,2928.0 810.2,2927.0 814.0,2925.9 817.9,2924.8 821.8,2923.6 825.6,2922.5 829.5,2921.3 833.4,2920.0 837.2,2918.8 841.1,2917.5 845.0,2916.1 848.8,2914.7 852.7,2913.2 856.6,2911.7 860.4,2910.1 864.3,2908.4 868.2,2906.7 872.0,2904.8 875.9,2902.9 879.8,2900.9 883.6,2898.8 887.5,2896.5 891.3,2894.2 895.2,2891.8 899.1,2889.3 902.9,2886.8 906.8,2884.1 910.7,2881.4 914.5,2878.6 918.4,2875.7 922.3,2872.7 926.1,2869.7 930.0,2866.6 933.9,2863.5 937.7,2860.3 941.6,2857.0 945.5,2853.7 949.3,2850.3 953.2,2846.8 957.1,2843.3 960.9,2839.6 964.8,2835.7 968.7,2831.8 972.5,2827.7 976.4,2823.5 980.3,2819.1 984.1,2814.5 988.0,2809.7 991.8,2804.7 995.7,2799.6 999.6,2794.3 1003.4,2788.9 1007.3,2783.3 1011.2,2777.7 1015.0,2772.0 1018.9,2766.2 1022.8,2760.4 1026.6,2754.6 1030.5,2748.8 1034.4,2743.0 1038.2,2737.2 1042.1,2731.3 1046.0,2725.4 1049.8,2719.3 1053.7,2713.2 1057.6,2706.9 1061.4,2700.5 1065.3,2694.1 1069.2,2688.0 1073.0,2682.2 1076.9,2676.9 1080.8,2672.4 1084.6,2668.6 1088.5,2665.7 1092.3,2663.3 1096.2,2661.4 1100.1,2659.8 1103.9,2658.5 1107.8,2657.1 1111.7,2655.8 1115.5,2654.4 1119.4,2652.9 1123.3,2651.1 1127.1,2649.1 1131.0,2646.8 1134.9,2644.2 1138.7,2641.1 1142.6,2637.6 1146.5,2633.6 1150.3,2629.1 1154.2,2624.0 1158.1,2618.3 1161.9,2612.0 1165.8,2605.1 1169.7,2597.8 1173.5,2590.0 1177.4,2581.9 1181.2,2573.5 1185.1,2564.9 1189.0,2556.1 1192.8,2547.3 1196.7,2538.4 1200.6,2529.4 1204.4,2520.3 1208.3,2511.2 1212.2,2502.0 1216.0,2492.6 1219.9,2483.3 1223.8,2473.8 1227.6,2464.3 1231.5,2454.9 1235.4,2445.5 1239.2,2436.2 1243.1,2427.1 1247.0,2418.3 1250.8,2409.8 1254.7,2401.8 1258.6,2394.6 1262.4,2388.3 1266.3,2383.2 1270.2,2379.5 1274.0,2377.2 1277.9,2376.1 1281.7,2376.3 1285.6,2377.6 1289.5,2380.4 1293.3,2385.1 1297.2,2391.9 1301.1,2401.3 1304.9,2413.2 1308.8,2427.9 1312.7,2445.2 1316.5,2465.3 1320.4,2487.4 1324.3,2511.1 1328.1,2535.5 1332.0,2560.2 1335.9,2584.4 1339.7,2608.1 1343.6,2631.2 1347.5,2653.7 1351.3,2675.5 1355.2,2696.6 1359.1,2717.0 1362.9,2736.6 1366.8,2755.3 1370.7,2773.1 1374.5,2789.9 1378.4,2805.8 1382.2,2820.6 1386.1,2834.3 1390.0,2847.0 1393.8,2858.6 1397.7,2869.3 1401.6,2878.9 1405.4,2887.6 1409.3,2895.4 1413.2,2902.4 1417.0,2908.6 1420.9,2914.2 1424.8,2919.2 1428.6,2923.7 1432.5,2927.9 1436.4,2931.8 1440.2,2935.3 1444.1,2938.5 1448.0,2941.4 1451.8,2944.0 1455.7,2946.4 1459.6,2948.6 1463.4,2950.5 1467.3,2952.2 1471.1,2953.8 1475.0,2955.1 1478.9,2956.3 1482.7,2957.4 1486.6,2958.3 1490.5,2959.1 1494.3,2959.7 1498.2,2960.3 1502.1,2960.8 1505.9,2961.2 1509.8,2961.6 1513.7,2961.9 1517.5,2962.2 1521.4,2962.4 1525.3,2962.7 1529.1,2962.9 1533.0,2963.1 1536.9,2963.3 1540.7,2963.5 1544.6,2963.6 1548.5,2963.8 1552.3,2963.9 1556.2,2964.1 1560.1,2964.2 1563.9,2964.3 1567.8,2964.4 1571.6,2964.5 1575.5,2964.5 1579.4,2964.6 1583.2,2964.7 1587.1,2964.7 1591.0,2964.8 1594.8,2964.9 1598.7,2964.9 1602.6,2965.0 1606.4,2965.0 1610.3,2965.1 1614.2,2965.1 1618.0,2965.2 1621.9,2965.2 1625.8,2965.3 1629.6,2965.4 1633.5,2965.4 1637.4,2965.5 1641.2,2965.5 1645.1,2965.6 1649.0,2965.7 1652.8,2965.7 1656.7,2965.8 1660.6,2965.9 1664.4,2965.9 1668.3,2966.0 1672.1,2966.1 1676.0,2966.1 1679.9,2966.2 1683.7,2966.3 1687.6,2966.3 1691.5,2966.4 1695.3,2966.4 1699.2,2966.5 1703.1,2966.6 1706.9,2966.6 1710.8,2966.7 1714.7,2966.7 1718.5,2966.8 1722.4,2966.8 1726.3,2966.9 1730.1,2966.9 1734.0,2967.0 1737.9,2967.0 1741.7,2967.1 1745.6,2967.1 1749.5,2967.1 1753.3,2967.2 1757.2,2967.2 1761.0,2967.2 1764.9,2967.2 1768.8,2967.2 1772.6,2967.3 1776.5,2967.3 1780.4,2967.3 1784.2,2967.3 1788.1,2967.3 1792.0,2967.3 1795.8,2967.3 1799.7,2967.2 1803.6,2967.2 1807.4,2967.2 1809.8,2967.2"/>
<polyline class="cv" stroke="#ffff00" stroke-width="9.8" points="261.3,2955.9 265.2,2956.2 269.0,2956.5 272.9,2956.7 276.8,2957.0 280.6,2957.1 284.5,2957.3 288.4,2957.5 292.2,2957.6 296.1,2957.7 300.0,2957.7 303.8,2957.8 307.7,2957.8 311.5,2957.9 315.4,2957.9 319.3,2957.9 323.1,2957.9 327.0,2957.9 330.9,2957.8 334.7,2957.8 338.6,2957.8 342.5,2957.8 346.3,2957.8 350.2,2957.8 354.1,2957.7 357.9,2957.7 361.8,2957.7 365.7,2957.7 369.5,2957.7 373.4,2957.6 377.3,2957.6 381.1,2957.6 385.0,2957.6 388.9,2957.5 392.7,2957.5 396.6,2957.5 400.5,2957.4 404.3,2957.4 408.2,2957.3 412.0,2957.3 415.9,2957.2 419.8,2957.1 423.6,2957.0 427.5,2957.0 431.4,2956.9 435.2,2956.8 439.1,2956.7 443.0,2956.6 446.8,2956.4 450.7,2956.3 454.6,2956.2 458.4,2956.0 462.3,2955.9 466.2,2955.7 470.0,2955.5 473.9,2955.3 477.8,2955.1 481.6,2954.9 485.5,2954.7 489.4,2954.5 493.2,2954.3 497.1,2954.1 501.0,2953.8 504.8,2953.6 508.7,2953.3 512.5,2953.1 516.4,2952.8 520.3,2952.5 524.1,2952.3 528.0,2952.0 531.9,2951.7 535.7,2951.4 539.6,2951.2 543.5,2950.9 547.3,2950.6 551.2,2950.3 555.1,2950.0 558.9,2949.7 562.8,2949.4 566.7,2949.1 570.5,2948.7 574.4,2948.4 578.3,2948.1 582.1,2947.8 586.0,2947.5 589.9,2947.2 593.7,2946.9 597.6,2946.6 601.4,2946.3 605.3,2946.0 609.2,2945.7 613.0,2945.4 616.9,2945.1 620.8,2944.8 624.6,2944.6 628.5,2944.3 632.4,2944.1 636.2,2943.8 640.1,2943.6 644.0,2943.4 647.8,2943.2 651.7,2943.0 655.6,2942.9 659.4,2942.7 663.3,2942.6 667.2,2942.4 671.0,2942.3 674.9,2942.2 678.8,2942.2 682.6,2942.1 686.5,2942.1 690.4,2942.1 694.2,2942.1 698.1,2942.1 701.9,2942.1 705.8,2942.1 709.7,2942.2 713.5,2942.2 717.4,2942.2 721.3,2942.2 725.1,2942.2 729.0,2942.2 732.9,2942.2 736.7,2942.1 740.6,2942.0 744.5,2941.9 748.3,2941.7 752.2,2941.5 756.1,2941.3 759.9,2941.0 763.8,2940.6 767.7,2940.2 771.5,2939.8 775.4,2939.3 779.3,2938.7 783.1,2938.1 787.0,2937.4 790.9,2936.7 794.7,2936.0 798.6,2935.2 802.4,2934.3 806.3,2933.4 810.2,2932.5 814.0,2931.5 817.9,2930.5 821.8,2929.5 825.6,2928.4 829.5,2927.3 833.4,2926.2 837.2,2925.0 841.1,2923.8 845.0,2922.6 848.8,2921.3 852.7,2920.0 856.6,2918.6 860.4,2917.3 864.3,2915.8 868.2,2914.4 872.0,2912.9 875.9,2911.4 879.8,2909.9 883.6,2908.3 887.5,2906.6 891.3,2905.0 895.2,2903.2 899.1,2901.4 902.9,2899.5 906.8,2897.6 910.7,2895.5 914.5,2893.4 918.4,2891.1 922.3,2888.7 926.1,2886.2 930.0,2883.6 933.9,2880.8 937.7,2877.9 941.6,2874.8 945.5,2871.5 949.3,2868.1 953.2,2864.6 957.1,2860.9 960.9,2857.0 964.8,2853.1 968.7,2848.9 972.5,2844.7 976.4,2840.3 980.3,2835.7 984.1,2831.1 988.0,2826.3 991.8,2821.4 995.7,2816.4 999.6,2811.2 1003.4,2805.9 1007.3,2800.6 1011.2,2795.1 1015.0,2789.4 1018.9,2783.7 1022.8,2777.9 1026.6,2771.9 1030.5,2765.9 1034.4,2759.7 1038.2,2753.6 1042.1,2747.4 1046.0,2741.2 1049.8,2735.0 1053.7,2728.9 1057.6,2722.9 1061.4,2717.0 1065.3,2711.4 1069.2,2706.1 1073.0,2701.2 1076.9,2696.9 1080.8,2693.3 1084.6,2690.4 1088.5,2688.2 1092.3,2686.4 1096.2,2685.1 1100.1,2684.0 1103.9,2683.0 1107.8,2682.0 1111.7,2680.9 1115.5,2679.7 1119.4,2678.3 1123.3,2676.6 1127.1,2674.6 1131.0,2672.3 1134.9,2669.6 1138.7,2666.5 1142.6,2663.0 1146.5,2659.1 1150.3,2654.9 1154.2,2650.4 1158.1,2645.6 1161.9,2640.5 1165.8,2635.1 1169.7,2629.4 1173.5,2623.3 1177.4,2616.8 1181.2,2609.9 1185.1,2602.6 1189.0,2594.7 1192.8,2586.4 1196.7,2577.7 1200.6,2568.7 1204.4,2559.6 1208.3,2550.3 1212.2,2541.2 1216.0,2532.2 1219.9,2523.5 1223.8,2515.2 1227.6,2507.2 1231.5,2499.4 1235.4,2491.7 1239.2,2484.1 1243.1,2476.4 1247.0,2468.6 1250.8,2460.6 1254.7,2452.7 1258.6,2445.2 1262.4,2438.5 1266.3,2433.0 1270.2,2428.8 1274.0,2426.1 1277.9,2424.8 1281.7,2425.1 1285.6,2427.1 1289.5,2431.0 1293.3,2437.4 1297.2,2446.7 1301.1,2459.1 1304.9,2474.1 1308.8,2490.8 1312.7,2508.4 1316.5,2526.3 1320.4,2544.4 1324.3,2562.8 1328.1,2581.7 1332.0,2601.1 1335.9,2621.2 1339.7,2641.7 1343.6,2662.3 1347.5,2682.8 1351.3,2703.0 1355.2,2722.5 1359.1,2741.1 1362.9,2758.8 1366.8,2775.7 1370.7,2791.6 1374.5,2806.7 1378.4,2821.0 1382.2,2834.4 1386.1,2846.9 1390.0,2858.6 1393.8,2869.4 1397.7,2879.4 1401.6,2888.3 1405.4,2896.3 1409.3,2903.4 1413.2,2909.6 1417.0,2915.1 1420.9,2919.9 1424.8,2924.2 1428.6,2928.2 1432.5,2931.9 1436.4,2935.3 1440.2,2938.5 1444.1,2941.4 1448.0,2944.1 1451.8,2946.5 1455.7,2948.8 1459.6,2950.8 1463.4,2952.6 1467.3,2954.1 1471.1,2955.5 1475.0,2956.8 1478.9,2957.8 1482.7,2958.7 1486.6,2959.5 1490.5,2960.2 1494.3,2960.7 1498.2,2961.2 1502.1,2961.6 1505.9,2961.9 1509.8,2962.1 1513.7,2962.4 1517.5,2962.6 1521.4,2962.8 1525.3,2962.9 1529.1,2963.1 1533.0,2963.3 1536.9,2963.4 1540.7,2963.5 1544.6,2963.7 1548.5,2963.8 1552.3,2963.9 1556.2,2964.0 1560.1,2964.1 1563.9,2964.2 1567.8,2964.3 1571.6,2964.4 1575.5,2964.5 1579.4,2964.6 1583.2,2964.7 1587.1,2964.7 1591.0,2964.8 1594.8,2964.9 1598.7,2965.0 1602.6,2965.0 1606.4,2965.1 1610.3,2965.1 1614.2,2965.2 1618.0,2965.3 1621.9,2965.3 1625.8,2965.4 1629.6,2965.5 1633.5,2965.5 1637.4,2965.6 1641.2,2965.7 1645.1,2965.7 1649.0,2965.8 1652.8,2965.8 1656.7,2965.9 1660.6,2966.0 1664.4,2966.0 1668.3,2966.1 1672.1,2966.1 1676.0,2966.2 1679.9,2966.3 1683.7,2966.3 1687.6,2966.4 1691.5,2966.4 1695.3,2966.5 1699.2,2966.5 1703.1,2966.6 1706.9,2966.6 1710.8,2966.7 1714.7,2966.7 1718.5,2966.8 1722.4,2966.8 1726.3,2966.9 1730.1,2966.9 1734.0,2966.9 1737.9,2967.0 1741.7,2967.0 1745.6,2967.0 1749.5,2967.1 1753.3,2967.1 1757.2,2967.1 1761.0,2967.2 1764.9,2967.2 1768.8,2967.2 1772.6,2967.2 1776.5,2967.2 1780.4,2967.3 1784.2,2967.3 1788.1,2967.3 1792.0,2967.3 1795.8,2967.3 1799.7,2967.3 1803.6,2967.3 1807.4,2967.3 1809.8,2967.3"/>
<polyline class="cv" stroke="#ff0000" stroke-width="9.8" points="261.3,2956.3 265.2,2956.6 269.0,2956.9 272.9,2957.1 276.8,2957.3 280.6,2957.5 284.5,2957.7 288.4,2957.8 292.2,2957.9 296.1,2958.0 300.0,2958.1 303.8,2958.1 307.7,2958.2 311.5,2958.2 315.4,2958.2 319.3,2958.2 323.1,2958.2 327.0,2958.2 330.9,2958.2 334.7,2958.2 338.6,2958.1 342.5,2958.1 346.3,2958.1 350.2,2958.1 354.1,2958.1 357.9,2958.1 361.8,2958.0 365.7,2958.0 369.5,2958.0 373.4,2958.0 377.3,2957.9 381.1,2957.9 385.0,2957.9 388.9,2957.8 392.7,2957.8 396.6,2957.8 400.5,2957.7 404.3,2957.7 408.2,2957.6 412.0,2957.6 415.9,2957.5 419.8,2957.4 423.6,2957.3 427.5,2957.3 431.4,2957.2 435.2,2957.1 439.1,2957.0 443.0,2956.8 446.8,2956.7 450.7,2956.6 454.6,2956.5 458.4,2956.3 462.3,2956.2 466.2,2956.0 470.0,2955.8 473.9,2955.6 477.8,2955.5 481.6,2955.3 485.5,2955.1 489.4,2954.9 493.2,2954.6 497.1,2954.4 501.0,2954.2 504.8,2954.0 508.7,2953.7 512.5,2953.5 516.4,2953.2 520.3,2953.0 524.1,2952.7 528.0,2952.4 531.9,2952.2 535.7,2951.9 539.6,2951.6 543.5,2951.3 547.3,2951.0 551.2,2950.7 555.1,2950.4 558.9,2950.1 562.8,2949.8 566.7,2949.5 570.5,2949.2 574.4,2948.9 578.3,2948.6 582.1,2948.3 586.0,2947.9 589.9,2947.6 593.7,2947.3 597.6,2947.0 601.4,2946.7 605.3,2946.4 609.2,2946.1 613.0,2945.8 616.9,2945.5 620.8,2945.2 624.6,2945.0 628.5,2944.7 632.4,2944.5 636.2,2944.2 640.1,2944.0 644.0,2943.8 647.8,2943.6 651.7,2943.4 655.6,2943.2 659.4,2943.1 663.3,2943.0 667.2,2942.8 671.0,2942.7 674.9,2942.7 678.8,2942.6 682.6,2942.6 686.5,2942.5 690.4,2942.6 694.2,2942.6 698.1,2942.6 701.9,2942.7 705.8,2942.7 709.7,2942.8 713.5,2942.9 717.4,2942.9 721.3,2943.0 725.1,2943.0 729.0,2943.0 732.9,2943.0 736.7,2943.0 740.6,2943.0 744.5,2942.9 748.3,2942.8 752.2,2942.6 756.1,2942.4 759.9,2942.2 763.8,2941.9 767.7,2941.5 771.5,2941.1 775.4,2940.7 779.3,2940.2 783.1,2939.6 787.0,2939.0 790.9,2938.3 794.7,2937.6 798.6,2936.9 802.4,2936.1 806.3,2935.2 810.2,2934.3 814.0,2933.4 817.9,2932.5 821.8,2931.5 825.6,2930.4 829.5,2929.3 833.4,2928.2 837.2,2927.1 841.1,2925.9 845.0,2924.7 848.8,2923.5 852.7,2922.2 856.6,2920.9 860.4,2919.6 864.3,2918.3 868.2,2917.0 872.0,2915.6 875.9,2914.2 879.8,2912.8 883.6,2911.4 887.5,2910.0 891.3,2908.5 895.2,2907.0 899.1,2905.5 902.9,2903.8 906.8,2902.1 910.7,2900.2 914.5,2898.3 918.4,2896.2 922.3,2894.1 926.1,2891.7 930.0,2889.2 933.9,2886.6 937.7,2883.7 941.6,2880.7 945.5,2877.5 949.3,2874.1 953.2,2870.5 957.1,2866.8 960.9,2862.9 964.8,2858.8 968.7,2854.6 972.5,2850.3 976.4,2845.9 980.3,2841.3 984.1,2836.6 988.0,2831.8 991.8,2826.9 995.7,2821.9 999.6,2816.8 1003.4,2811.6 1007.3,2806.3 1011.2,2800.8 1015.0,2795.2 1018.9,2789.5 1022.8,2783.7 1026.6,2777.7 1030.5,2771.5 1034.4,2765.3 1038.2,2759.0 1042.1,2752.7 1046.0,2746.4 1049.8,2740.2 1053.7,2734.1 1057.6,2728.2 1061.4,2722.5 1065.3,2717.1 1069.2,2712.1 1073.0,2707.6 1076.9,2703.6 1080.8,2700.3 1084.6,2697.7 1088.5,2695.7 1092.3,2694.1 1096.2,2693.0 1100.1,2692.0 1103.9,2691.1 1107.8,2690.2 1111.7,2689.2 1115.5,2688.1 1119.4,2686.7 1123.3,2685.1 1127.1,2683.1 1131.0,2680.8 1134.9,2678.1 1138.7,2674.9 1142.6,2671.4 1146.5,2667.6 1150.3,2663.6 1154.2,2659.2 1158.1,2654.7 1161.9,2650.0 1165.8,2645.1 1169.7,2640.0 1173.5,2634.4 1177.4,2628.5 1181.2,2622.1 1185.1,2615.2 1189.0,2607.6 1192.8,2599.5 1196.7,2590.8 1200.6,2581.8 1204.4,2572.6 1208.3,2563.4 1212.2,2554.3 1216.0,2545.4 1219.9,2536.9 1223.8,2529.0 1227.6,2521.5 1231.5,2514.2 1235.4,2507.1 1239.2,2500.1 1243.1,2492.8 1247.0,2485.3 1250.8,2477.5 1254.7,2469.7 1258.6,2462.1 1262.4,2455.3 1266.3,2449.5 1270.2,2445.2 1274.0,2442.3 1277.9,2441.1 1281.7,2441.4 1285.6,2443.5 1289.5,2447.8 1293.3,2454.8 1297.2,2464.9 1301.1,2478.4 1304.9,2494.3 1308.8,2511.7 1312.7,2529.4 1316.5,2546.6 1320.4,2563.3 1324.3,2580.0 1328.1,2597.1 1332.0,2614.8 1335.9,2633.5 1339.7,2652.9 1343.6,2672.7 1347.5,2692.6 1351.3,2712.1 1355.2,2731.1 1359.1,2749.1 1362.9,2766.3 1366.8,2782.5 1370.7,2797.8 1374.5,2812.4 1378.4,2826.1 1382.2,2839.0 1386.1,2851.1 1390.0,2862.5 1393.8,2873.1 1397.7,2882.7 1401.6,2891.5 1405.4,2899.3 1409.3,2906.1 1413.2,2912.0 1417.0,2917.2 1420.9,2921.8 1424.8,2925.9 1428.6,2929.7 1432.5,2933.2 1436.4,2936.5 1440.2,2939.5 1444.1,2942.4 1448.0,2945.0 1451.8,2947.4 1455.7,2949.6 1459.6,2951.5 1463.4,2953.2 1467.3,2954.8 1471.1,2956.1 1475.0,2957.3 1478.9,2958.3 1482.7,2959.2 1486.6,2959.9 1490.5,2960.5 1494.3,2961.1 1498.2,2961.5 1502.1,2961.8 1505.9,2962.1 1509.8,2962.3 1513.7,2962.5 1517.5,2962.7 1521.4,2962.9 1525.3,2963.0 1529.1,2963.2 1533.0,2963.3 1536.9,2963.4 1540.7,2963.6 1544.6,2963.7 1548.5,2963.8 1552.3,2963.9 1556.2,2964.0 1560.1,2964.1 1563.9,2964.2 1567.8,2964.3 1571.6,2964.4 1575.5,2964.5 1579.4,2964.6 1583.2,2964.7 1587.1,2964.7 1591.0,2964.8 1594.8,2964.9 1598.7,2965.0 1602.6,2965.0 1606.4,2965.1 1610.3,2965.2 1614.2,2965.2 1618.0,2965.3 1621.9,2965.4 1625.8,2965.4 1629.6,2965.5 1633.5,2965.6 1637.4,2965.6 1641.2,2965.7 1645.1,2965.8 1649.0,2965.8 1652.8,2965.9 1656.7,2965.9 1660.6,2966.0 1664.4,2966.1 1668.3,2966.1 1672.1,2966.2 1676.0,2966.2 1679.9,2966.3 1683.7,2966.3 1687.6,2966.4 1691.5,2966.4 1695.3,2966.5 1699.2,2966.5 1703.1,2966.6 1706.9,2966.6 1710.8,2966.7 1714.7,2966.7 1718.5,2966.8 1722.4,2966.8 1726.3,2966.8 1730.1,2966.9 1734.0,2966.9 1737.9,2967.0 1741.7,2967.0 1745.6,2967.0 1749.5,2967.1 1753.3,2967.1 1757.2,2967.1 1761.0,2967.1 1764.9,2967.2 1768.8,2967.2 1772.6,2967.2 1776.5,2967.2 1780.4,2967.2 1784.2,2967.3 1788.1,2967.3 1792.0,2967.3 1795.8,2967.3 1799.7,2967.3 1803.6,2967.3 1807.4,2967.3 1809.8,2967.3"/>
</g>
<rect class="ax" x="261.3" y="1683.4" width="1739.4" height="1288.2" stroke-width="4.2"/>
<path class="ax" stroke-width="4" d="M261.3 2971.6 v24 M454.6 2971.6 v12.5 M647.8 2971.6 v24 M838.5 2971.6 v12.5 M1033.3 2971.6 v24 M1228.6 2971.6 v12.5 M1420 2971.6 v24 M1613.4 2971.6 v12.5 M1809.9 2971.6 v24 M2000.7 2971.6 v12.5 M261.3 2971.6 h-29 M261.3 2864.2 h-13.5 M261.3 2756.9 h-29 M261.3 2649.6 h-13.5 M261.3 2542.9 h-29 M261.3 2434.8 h-13.5 M261.3 2329.2 h-29 M261.3 2221.8 h-13.5 M261.3 2111.5 h-29 M261.3 2007.5 h-13.5 M261.3 1896.9 h-29 M261.3 1789.5 h-13.5 M261.3 1683 h-29"/>
<text x="257.8" y="3069.5" font-size="67" class="tl" text-anchor="middle" textLength="101.5" lengthAdjust="spacing">400</text>
<text x="644.3" y="3069.5" font-size="67" class="tl" text-anchor="middle" textLength="101.5" lengthAdjust="spacing">500</text>
<text x="1030.9" y="3069.5" font-size="67" class="tl" text-anchor="middle" textLength="101.5" lengthAdjust="spacing">600</text>
<text x="1417.4" y="3069.5" font-size="67" class="tl" text-anchor="middle" textLength="101.5" lengthAdjust="spacing">700</text>
<text x="1803.9" y="3069.5" font-size="67" class="tl" text-anchor="middle" textLength="101.5" lengthAdjust="spacing">800</text>
<text x="211.5" y="2988.8" font-size="67" class="tl" text-anchor="end" textLength="85" lengthAdjust="spacing">0.0</text>
<text x="211.5" y="2777.5" font-size="67" class="tl" text-anchor="end" textLength="85" lengthAdjust="spacing">0.1</text>
<text x="211.5" y="2566" font-size="67" class="tl" text-anchor="end" textLength="85" lengthAdjust="spacing">0.2</text>
<text x="211.5" y="2349.9" font-size="67" class="tl" text-anchor="end" textLength="85" lengthAdjust="spacing">0.3</text>
<text x="211.5" y="2132.4" font-size="67" class="tl" text-anchor="end" textLength="85" lengthAdjust="spacing">0.4</text>
<text x="211.5" y="1918.7" font-size="67" class="tl" text-anchor="end" textLength="85" lengthAdjust="spacing">0.5</text>
<text x="211.5" y="1704.5" font-size="67" class="tl" text-anchor="end" textLength="85" lengthAdjust="spacing">0.6</text>
<text x="830" y="3140.1" font-size="67" class="tl">W<tspan x="902.5" textLength="420" lengthAdjust="spacing">avelength(nm)</tspan></text>
<text x="80.5" y="2478.8" font-size="68" class="tl" textLength="357.6" lengthAdjust="spacing" transform="rotate(-90 80.5 2478.8)">Absorbance</text>
<text x="281.8" y="1772.3" font-size="63.5" class="tn" letter-spacing="0.9"><tspan>MnCo</tspan><tspan dy="19.6">2</tspan><tspan dy="-19.6">O</tspan><tspan dy="19.6">4</tspan><tspan dy="-19.6">-BC</tspan></text>
<line x1="1641.2" y1="1798.4" x2="1786.8" y2="1798.4" stroke="#000000" stroke-width="12.3" stroke-linecap="round"/>
<text x="1801" y="1817.4" font-size="61" class="tl">Z<tspan dx="6.5">ero</tspan></text>
<line x1="1641.2" y1="1878.6" x2="1786.8" y2="1878.6" stroke="#00ffff" stroke-width="12.3" stroke-linecap="round"/>
<text x="1801" y="1897.6" font-size="61" class="tl">20</text>
<line x1="1641.2" y1="1958.8" x2="1786.8" y2="1958.8" stroke="#800000" stroke-width="12.3" stroke-linecap="round"/>
<text x="1801" y="1977.8" font-size="61" class="tl">40</text>
<line x1="1641.2" y1="2039" x2="1786.8" y2="2039" stroke="#008000" stroke-width="12.3" stroke-linecap="round"/>
<text x="1801" y="2058" font-size="61" class="tl">60</text>
<line x1="1641.2" y1="2119.2" x2="1786.8" y2="2119.2" stroke="#ff8000" stroke-width="12.3" stroke-linecap="round"/>
<text x="1801" y="2138.2" font-size="61" class="tl">80</text>
<line x1="1641.2" y1="2199.4" x2="1786.8" y2="2199.4" stroke="#ffff00" stroke-width="12.3" stroke-linecap="round"/>
<text x="1801" y="2218.4" font-size="61" class="tl" textLength="92" lengthAdjust="spacing">100</text>
<line x1="1641.2" y1="2279.6" x2="1786.8" y2="2279.6" stroke="#ff0000" stroke-width="12.3" stroke-linecap="round"/>
<text x="1801" y="2298.6" font-size="61" class="tl" textLength="93.5" lengthAdjust="spacing">120</text>
</g>
<g id="chart3">
<clipPath id="clip3"><rect x="284" y="3216.3" width="1740.1" height="1289.2"/></clipPath>
<g clip-path="url(#clip3)">
<polyline class="cv" stroke="#000000" stroke-width="9.8" points="284.0,4463.8 287.9,4464.6 291.7,4465.4 295.6,4466.0 299.5,4466.6 303.3,4467.1 307.2,4467.6 311.1,4468.0 314.9,4468.3 318.8,4468.6 322.7,4468.9 326.5,4469.1 330.4,4469.3 334.3,4469.4 338.1,4469.5 342.0,4469.5 345.9,4469.6 349.7,4469.6 353.6,4469.6 357.5,4469.5 361.3,4469.5 365.2,4469.4 369.1,4469.3 372.9,4469.3 376.8,4469.1 380.7,4469.0 384.5,4468.9 388.4,4468.7 392.3,4468.6 396.1,4468.4 400.0,4468.2 403.9,4468.0 407.7,4467.8 411.6,4467.6 415.5,4467.3 419.3,4467.1 423.2,4466.8 427.1,4466.5 430.9,4466.2 434.8,4465.9 438.7,4465.5 442.5,4465.2 446.4,4464.8 450.3,4464.5 454.1,4464.1 458.0,4463.7 461.9,4463.2 465.7,4462.8 469.6,4462.3 473.5,4461.9 477.3,4461.4 481.2,4460.9 485.1,4460.4 488.9,4459.8 492.8,4459.3 496.7,4458.7 500.5,4458.2 504.4,4457.6 508.3,4457.0 512.1,4456.4 516.0,4455.8 519.9,4455.2 523.7,4454.6 527.6,4454.0 531.5,4453.3 535.3,4452.7 539.2,4452.1 543.1,4451.5 546.9,4450.8 550.8,4450.2 554.7,4449.6 558.5,4449.0 562.4,4448.4 566.3,4447.7 570.1,4447.1 574.0,4446.5 577.9,4446.0 581.8,4445.4 585.6,4444.8 589.5,4444.2 593.4,4443.7 597.2,4443.1 601.1,4442.6 605.0,4442.1 608.8,4441.6 612.7,4441.1 616.6,4440.6 620.4,4440.2 624.3,4439.7 628.2,4439.3 632.0,4438.8 635.9,4438.4 639.8,4438.0 643.6,4437.6 647.5,4437.2 651.4,4436.8 655.2,4436.4 659.1,4436.1 663.0,4435.7 666.8,4435.4 670.7,4435.0 674.6,4434.7 678.4,4434.4 682.3,4434.0 686.2,4433.7 690.0,4433.4 693.9,4433.2 697.8,4432.9 701.6,4432.6 705.5,4432.3 709.4,4432.1 713.2,4431.8 717.1,4431.6 721.0,4431.3 724.8,4431.0 728.7,4430.7 732.6,4430.4 736.4,4430.1 740.3,4429.7 744.2,4429.2 748.0,4428.7 751.9,4428.2 755.8,4427.5 759.6,4426.8 763.5,4426.0 767.4,4425.1 771.2,4424.2 775.1,4423.1 779.0,4421.9 782.8,4420.6 786.7,4419.1 790.6,4417.6 794.4,4415.9 798.3,4414.0 802.2,4412.1 806.0,4410.0 809.9,4407.7 813.8,4405.3 817.6,4402.8 821.5,4400.1 825.4,4397.3 829.2,4394.3 833.1,4391.2 837.0,4387.9 840.8,4384.5 844.7,4380.9 848.6,4377.2 852.4,4373.3 856.3,4369.3 860.2,4365.1 864.0,4360.8 867.9,4356.4 871.8,4351.9 875.6,4347.2 879.5,4342.4 883.4,4337.5 887.2,4332.5 891.1,4327.5 895.0,4322.3 898.8,4317.0 902.7,4311.7 906.6,4306.3 910.4,4300.8 914.3,4295.2 918.2,4289.4 922.0,4283.6 925.9,4277.5 929.8,4271.4 933.6,4265.0 937.5,4258.4 941.4,4251.6 945.2,4244.5 949.1,4237.2 953.0,4229.7 956.8,4221.8 960.7,4213.7 964.6,4205.2 968.4,4196.4 972.3,4187.2 976.2,4177.6 980.0,4167.5 983.9,4157.0 987.8,4146.0 991.6,4134.5 995.5,4122.4 999.4,4109.7 1003.2,4096.5 1007.1,4082.6 1011.0,4068.0 1014.8,4052.7 1018.7,4036.9 1022.6,4020.5 1026.4,4003.7 1030.3,3986.5 1034.2,3969.1 1038.0,3951.5 1041.9,3933.9 1045.8,3916.2 1049.6,3898.7 1053.5,3881.4 1057.4,3864.4 1061.2,3848.1 1065.1,3832.7 1069.0,3818.3 1072.8,3805.2 1076.7,3793.6 1080.6,3783.8 1084.4,3775.8 1088.3,3769.6 1092.2,3764.9 1096.0,3761.7 1099.9,3759.8 1103.8,3758.8 1107.6,3758.8 1111.5,3759.6 1115.4,3761.0 1119.2,3763.0 1123.1,3765.3 1127.0,3768.0 1130.8,3770.8 1134.7,3773.7 1138.6,3776.4 1142.4,3779.0 1146.3,3781.1 1150.2,3782.6 1154.0,3783.5 1157.9,3783.6 1161.8,3782.8 1165.7,3781.0 1169.5,3778.4 1173.4,3774.7 1177.3,3769.9 1181.1,3764.1 1185.0,3757.1 1188.9,3749.0 1192.7,3739.9 1196.6,3729.8 1200.5,3718.8 1204.3,3706.9 1208.2,3694.1 1212.1,3680.5 1215.9,3666.2 1219.8,3651.2 1223.7,3635.7 1227.5,3619.8 1231.4,3603.6 1235.3,3587.2 1239.1,3570.8 1243.0,3554.4 1246.9,3538.1 1250.7,3522.0 1254.6,3506.1 1258.5,3490.5 1262.3,3475.2 1266.2,3460.2 1270.1,3445.6 1273.9,3431.5 1277.8,3418.1 1281.7,3405.9 1285.5,3395.1 1289.4,3386.2 1293.3,3379.5 1297.1,3374.7 1301.0,3371.7 1304.9,3370.2 1308.7,3370.4 1312.6,3373.5 1316.5,3380.9 1320.3,3394.2 1324.2,3414.4 1328.1,3440.3 1331.9,3470.2 1335.8,3502.4 1339.7,3535.7 1343.5,3570.1 1347.4,3606.4 1351.3,3645.0 1355.1,3686.5 1359.0,3731.2 1362.9,3778.2 1366.7,3826.2 1370.6,3874.0 1374.5,3920.5 1378.3,3964.2 1382.2,4004.4 1386.1,4041.1 1389.9,4074.6 1393.8,4105.3 1397.7,4133.5 1401.5,4159.6 1405.4,4184.0 1409.3,4206.9 1413.1,4228.5 1417.0,4248.9 1420.9,4268.2 1424.7,4286.4 1428.6,4303.8 1432.5,4320.3 1436.3,4335.9 1440.2,4350.4 1444.1,4363.8 1447.9,4375.9 1451.8,4386.7 1455.7,4396.0 1459.5,4403.9 1463.4,4410.7 1467.3,4416.5 1471.1,4421.4 1475.0,4425.6 1478.9,4429.3 1482.7,4432.6 1486.6,4435.6 1490.5,4438.5 1494.3,4441.1 1498.2,4443.5 1502.1,4445.8 1505.9,4447.9 1509.8,4449.9 1513.7,4451.7 1517.5,4453.4 1521.4,4455.0 1525.3,4456.5 1529.1,4457.8 1533.0,4459.1 1536.9,4460.4 1540.7,4461.6 1544.6,4462.7 1548.5,4463.8 1552.3,4464.9 1556.2,4465.9 1560.1,4466.9 1563.9,4467.8 1567.8,4468.7 1571.7,4469.6 1575.5,4470.4 1579.4,4471.2 1583.3,4472.0 1587.1,4472.7 1591.0,4473.4 1594.9,4474.1 1598.7,4474.7 1602.6,4475.3 1606.5,4475.9 1610.3,4476.5 1614.2,4477.1 1618.1,4477.6 1621.9,4478.1 1625.8,4478.6 1629.7,4479.0 1633.5,4479.5 1637.4,4479.9 1641.3,4480.3 1645.1,4480.7 1649.0,4481.1 1652.9,4481.5 1656.7,4481.8 1660.6,4482.2 1664.5,4482.5 1668.3,4482.8 1672.2,4483.1 1676.1,4483.4 1679.9,4483.7 1683.8,4483.9 1687.7,4484.2 1691.5,4484.4 1695.4,4484.6 1699.3,4484.9 1703.1,4485.1 1707.0,4485.3 1710.9,4485.5 1714.7,4485.7 1718.6,4485.8 1722.5,4486.0 1726.3,4486.2 1730.2,4486.3 1734.1,4486.5 1738.0,4486.6 1741.8,4486.7 1745.7,4486.9 1749.6,4487.0 1753.4,4487.1 1757.3,4487.2 1761.2,4487.3 1765.0,4487.5 1768.9,4487.6 1772.8,4487.7 1776.6,4487.8 1780.5,4487.9 1784.4,4488.0 1788.2,4488.1 1792.1,4488.2 1796.0,4488.2 1799.8,4488.3 1803.7,4488.4 1807.6,4488.5 1811.4,4488.6 1815.3,4488.7 1819.2,4488.8 1823.0,4488.9 1826.9,4489.0 1830.8,4489.1 1833.1,4489.2"/>
<polyline class="cv" stroke="#800000" stroke-width="9.8" points="284.0,4465.5 287.9,4466.1 291.7,4466.7 295.6,4467.3 299.5,4467.8 303.3,4468.3 307.2,4468.7 311.1,4469.1 314.9,4469.4 318.8,4469.8 322.7,4470.0 326.5,4470.3 330.4,4470.5 334.3,4470.7 338.1,4470.9 342.0,4471.0 345.9,4471.1 349.7,4471.2 353.6,4471.2 357.5,4471.2 361.3,4471.2 365.2,4471.2 369.1,4471.2 372.9,4471.1 376.8,4471.0 380.7,4470.9 384.5,4470.8 388.4,4470.7 392.3,4470.5 396.1,4470.3 400.0,4470.1 403.9,4469.9 407.7,4469.7 411.6,4469.4 415.5,4469.2 419.3,4468.9 423.2,4468.6 427.1,4468.3 430.9,4468.0 434.8,4467.7 438.7,4467.3 442.5,4467.0 446.4,4466.6 450.3,4466.2 454.1,4465.8 458.0,4465.4 461.9,4465.0 465.7,4464.6 469.6,4464.2 473.5,4463.8 477.3,4463.4 481.2,4462.9 485.1,4462.5 488.9,4462.0 492.8,4461.6 496.7,4461.1 500.5,4460.7 504.4,4460.2 508.3,4459.8 512.1,4459.3 516.0,4458.8 519.9,4458.4 523.7,4457.9 527.6,4457.4 531.5,4457.0 535.3,4456.5 539.2,4456.1 543.1,4455.6 546.9,4455.2 550.8,4454.7 554.7,4454.3 558.5,4453.9 562.4,4453.5 566.3,4453.0 570.1,4452.6 574.0,4452.2 577.9,4451.9 581.8,4451.5 585.6,4451.1 589.5,4450.8 593.4,4450.4 597.2,4450.1 601.1,4449.8 605.0,4449.5 608.8,4449.2 612.7,4448.9 616.6,4448.6 620.4,4448.3 624.3,4448.1 628.2,4447.8 632.0,4447.6 635.9,4447.3 639.8,4447.1 643.6,4446.8 647.5,4446.6 651.4,4446.4 655.2,4446.1 659.1,4445.9 663.0,4445.7 666.8,4445.4 670.7,4445.2 674.6,4445.0 678.4,4444.7 682.3,4444.5 686.2,4444.2 690.0,4444.0 693.9,4443.7 697.8,4443.4 701.6,4443.2 705.5,4442.9 709.4,4442.6 713.2,4442.3 717.1,4442.0 721.0,4441.6 724.8,4441.3 728.7,4440.9 732.6,4440.5 736.4,4440.1 740.3,4439.7 744.2,4439.2 748.0,4438.7 751.9,4438.2 755.8,4437.6 759.6,4437.0 763.5,4436.3 767.4,4435.6 771.2,4434.9 775.1,4434.1 779.0,4433.2 782.8,4432.4 786.7,4431.4 790.6,4430.4 794.4,4429.3 798.3,4428.2 802.2,4427.0 806.0,4425.7 809.9,4424.3 813.8,4422.7 817.6,4421.1 821.5,4419.4 825.4,4417.5 829.2,4415.6 833.1,4413.4 837.0,4411.2 840.8,4408.7 844.7,4406.2 848.6,4403.4 852.4,4400.5 856.3,4397.5 860.2,4394.3 864.0,4391.0 867.9,4387.6 871.8,4384.1 875.6,4380.5 879.5,4376.8 883.4,4373.1 887.2,4369.3 891.1,4365.5 895.0,4361.7 898.8,4357.9 902.7,4354.0 906.6,4350.2 910.4,4346.4 914.3,4342.5 918.2,4338.5 922.0,4334.5 925.9,4330.3 929.8,4326.0 933.6,4321.5 937.5,4316.8 941.4,4311.9 945.2,4306.7 949.1,4301.2 953.0,4295.4 956.8,4289.3 960.7,4282.9 964.6,4276.0 968.4,4268.8 972.3,4261.2 976.2,4253.3 980.0,4245.1 983.9,4236.7 987.8,4228.0 991.6,4219.0 995.5,4209.9 999.4,4200.5 1003.2,4191.0 1007.1,4181.4 1011.0,4171.6 1014.8,4161.8 1018.7,4151.8 1022.6,4141.7 1026.4,4131.5 1030.3,4121.1 1034.2,4110.6 1038.0,4099.8 1041.9,4088.9 1045.8,4077.8 1049.6,4066.4 1053.5,4054.8 1057.4,4043.1 1061.2,4031.4 1065.1,4019.9 1069.0,4008.6 1072.8,3997.8 1076.7,3987.5 1080.6,3977.8 1084.4,3969.0 1088.3,3961.1 1092.2,3954.3 1096.0,3948.8 1099.9,3944.6 1103.8,3941.9 1107.6,3940.8 1111.5,3941.0 1115.4,3942.2 1119.2,3944.0 1123.1,3946.2 1127.0,3948.4 1130.8,3950.4 1134.7,3952.0 1138.6,3953.2 1142.4,3954.2 1146.3,3954.8 1150.2,3955.2 1154.0,3955.2 1157.9,3954.8 1161.8,3953.9 1165.7,3952.4 1169.5,3950.0 1173.4,3946.6 1177.3,3942.0 1181.1,3936.0 1185.0,3928.4 1188.9,3919.5 1192.7,3909.5 1196.6,3898.4 1200.5,3886.6 1204.3,3874.2 1208.2,3861.4 1212.1,3848.4 1215.9,3835.5 1219.8,3822.6 1223.7,3809.8 1227.5,3797.2 1231.4,3784.7 1235.3,3772.6 1239.1,3760.7 1243.0,3749.2 1246.9,3738.0 1250.7,3727.2 1254.6,3716.5 1258.5,3706.1 1262.3,3695.6 1266.2,3685.2 1270.1,3674.7 1273.9,3664.1 1277.8,3653.6 1281.7,3643.7 1285.5,3634.7 1289.4,3627.0 1293.3,3620.8 1297.1,3616.4 1301.0,3614.0 1304.9,3613.7 1308.7,3615.7 1312.6,3620.2 1316.5,3627.2 1320.3,3637.0 1324.2,3649.7 1328.1,3665.8 1331.9,3685.7 1335.8,3710.0 1339.7,3738.7 1343.5,3771.3 1347.4,3806.6 1351.3,3843.7 1355.1,3881.5 1359.0,3919.1 1362.9,3955.9 1366.7,3991.5 1370.6,4025.2 1374.5,4056.7 1378.3,4085.3 1382.2,4110.8 1386.1,4133.6 1389.9,4154.4 1393.8,4173.8 1397.7,4192.5 1401.5,4211.1 1405.4,4230.2 1409.3,4250.3 1413.1,4271.0 1417.0,4291.8 1420.9,4311.9 1424.7,4331.0 1428.6,4348.3 1432.5,4363.4 1436.3,4376.4 1440.2,4387.5 1444.1,4397.2 1447.9,4405.4 1451.8,4412.6 1455.7,4419.0 1459.5,4424.5 1463.4,4429.5 1467.3,4433.8 1471.1,4437.6 1475.0,4440.9 1478.9,4443.9 1482.7,4446.6 1486.6,4449.1 1490.5,4451.3 1494.3,4453.4 1498.2,4455.4 1502.1,4457.1 1505.9,4458.7 1509.8,4460.2 1513.7,4461.5 1517.5,4462.8 1521.4,4463.9 1525.3,4464.9 1529.1,4465.9 1533.0,4466.8 1536.9,4467.6 1540.7,4468.4 1544.6,4469.1 1548.5,4469.9 1552.3,4470.6 1556.2,4471.2 1560.1,4471.9 1563.9,4472.5 1567.8,4473.1 1571.7,4473.6 1575.5,4474.1 1579.4,4474.7 1583.3,4475.1 1587.1,4475.6 1591.0,4476.1 1594.9,4476.5 1598.7,4476.9 1602.6,4477.3 1606.5,4477.7 1610.3,4478.1 1614.2,4478.4 1618.1,4478.8 1621.9,4479.1 1625.8,4479.4 1629.7,4479.7 1633.5,4480.0 1637.4,4480.3 1641.3,4480.6 1645.1,4480.9 1649.0,4481.2 1652.9,4481.5 1656.7,4481.8 1660.6,4482.0 1664.5,4482.3 1668.3,4482.5 1672.2,4482.8 1676.1,4483.0 1679.9,4483.3 1683.8,4483.5 1687.7,4483.8 1691.5,4484.0 1695.4,4484.2 1699.3,4484.4 1703.1,4484.6 1707.0,4484.8 1710.9,4485.0 1714.7,4485.2 1718.6,4485.4 1722.5,4485.6 1726.3,4485.8 1730.2,4486.0 1734.1,4486.2 1738.0,4486.4 1741.8,4486.5 1745.7,4486.7 1749.6,4486.9 1753.4,4487.0 1757.3,4487.2 1761.2,4487.4 1765.0,4487.5 1768.9,4487.7 1772.8,4487.8 1776.6,4488.0 1780.5,4488.1 1784.4,4488.2 1788.2,4488.4 1792.1,4488.5 1796.0,4488.7 1799.8,4488.8 1803.7,4488.9 1807.6,4489.0 1811.4,4489.2 1815.3,4489.3 1819.2,4489.4 1823.0,4489.5 1826.9,4489.6 1830.8,4489.8 1833.1,4489.8"/>
<polyline class="cv" stroke="#00ffff" stroke-width="9.8" points="284.0,4477.9 287.9,4478.2 291.7,4478.4 295.6,4478.6 299.5,4478.8 303.3,4478.9 307.2,4479.0 311.1,4479.1 314.9,4479.2 318.8,4479.2 322.7,4479.3 326.5,4479.3 330.4,4479.3 334.3,4479.3 338.1,4479.2 342.0,4479.2 345.9,4479.2 349.7,4479.2 353.6,4479.1 357.5,4479.1 361.3,4479.1 365.2,4479.1 369.1,4479.1 372.9,4479.1 376.8,4479.1 380.7,4479.1 384.5,4479.1 388.4,4479.1 392.3,4479.1 396.1,4479.2 400.0,4479.2 403.9,4479.2 407.7,4479.2 411.6,4479.2 415.5,4479.3 419.3,4479.3 423.2,4479.3 427.1,4479.3 430.9,4479.3 434.8,4479.3 438.7,4479.2 442.5,4479.2 446.4,4479.2 450.3,4479.1 454.1,4479.1 458.0,4479.0 461.9,4478.9 465.7,4478.8 469.6,4478.7 473.5,4478.6 477.3,4478.5 481.2,4478.3 485.1,4478.1 488.9,4477.9 492.8,4477.7 496.7,4477.5 500.5,4477.3 504.4,4477.0 508.3,4476.8 512.1,4476.5 516.0,4476.2 519.9,4475.9 523.7,4475.6 527.6,4475.3 531.5,4475.0 535.3,4474.6 539.2,4474.3 543.1,4474.0 546.9,4473.6 550.8,4473.2 554.7,4472.9 558.5,4472.5 562.4,4472.1 566.3,4471.8 570.1,4471.4 574.0,4471.0 577.9,4470.6 581.8,4470.2 585.6,4469.8 589.5,4469.5 593.4,4469.1 597.2,4468.7 601.1,4468.3 605.0,4467.9 608.8,4467.6 612.7,4467.2 616.6,4466.8 620.4,4466.5 624.3,4466.1 628.2,4465.7 632.0,4465.4 635.9,4465.0 639.8,4464.7 643.6,4464.4 647.5,4464.0 651.4,4463.7 655.2,4463.4 659.1,4463.1 663.0,4462.8 666.8,4462.5 670.7,4462.2 674.6,4461.9 678.4,4461.7 682.3,4461.4 686.2,4461.2 690.0,4460.9 693.9,4460.7 697.8,4460.5 701.6,4460.3 705.5,4460.1 709.4,4459.9 713.2,4459.8 717.1,4459.6 721.0,4459.4 724.8,4459.3 728.7,4459.1 732.6,4459.0 736.4,4458.8 740.3,4458.6 744.2,4458.4 748.0,4458.2 751.9,4457.9 755.8,4457.6 759.6,4457.3 763.5,4456.9 767.4,4456.5 771.2,4456.0 775.1,4455.5 779.0,4454.9 782.8,4454.2 786.7,4453.5 790.6,4452.8 794.4,4451.9 798.3,4451.0 802.2,4450.0 806.0,4448.9 809.9,4447.6 813.8,4446.3 817.6,4444.9 821.5,4443.4 825.4,4441.7 829.2,4439.9 833.1,4438.0 837.0,4436.0 840.8,4433.8 844.7,4431.4 848.6,4428.9 852.4,4426.3 856.3,4423.5 860.2,4420.6 864.0,4417.6 867.9,4414.5 871.8,4411.3 875.6,4408.1 879.5,4404.8 883.4,4401.4 887.2,4398.1 891.1,4394.7 895.0,4391.3 898.8,4387.9 902.7,4384.5 906.6,4381.2 910.4,4377.9 914.3,4374.6 918.2,4371.2 922.0,4367.9 925.9,4364.5 929.8,4361.1 933.6,4357.6 937.5,4354.0 941.4,4350.4 945.2,4346.6 949.1,4342.7 953.0,4338.7 956.8,4334.5 960.7,4330.2 964.6,4325.7 968.4,4321.1 972.3,4316.2 976.2,4311.1 980.0,4305.8 983.9,4300.4 987.8,4294.6 991.6,4288.7 995.5,4282.5 999.4,4276.0 1003.2,4269.3 1007.1,4262.3 1011.0,4255.0 1014.8,4247.5 1018.7,4239.7 1022.6,4231.6 1026.4,4223.5 1030.3,4215.2 1034.2,4206.8 1038.0,4198.4 1041.9,4190.0 1045.8,4181.7 1049.6,4173.5 1053.5,4165.4 1057.4,4157.5 1061.2,4149.9 1065.1,4142.6 1069.0,4135.6 1072.8,4129.2 1076.7,4123.2 1080.6,4117.7 1084.4,4112.9 1088.3,4108.7 1092.2,4105.1 1096.0,4102.3 1099.9,4100.2 1103.8,4098.9 1107.6,4098.4 1111.5,4098.5 1115.4,4099.1 1119.2,4100.1 1123.1,4101.4 1127.0,4102.7 1130.8,4104.0 1134.7,4105.2 1138.6,4106.2 1142.4,4107.0 1146.3,4107.4 1150.2,4107.5 1154.0,4107.0 1157.9,4106.1 1161.8,4104.6 1165.7,4102.7 1169.5,4100.4 1173.4,4097.6 1177.3,4094.5 1181.1,4091.0 1185.0,4087.2 1188.9,4083.1 1192.7,4078.5 1196.6,4073.5 1200.5,4068.0 1204.3,4062.0 1208.2,4055.5 1212.1,4048.3 1215.9,4040.5 1219.8,4032.1 1223.7,4023.3 1227.5,4014.0 1231.4,4004.4 1235.3,3994.6 1239.1,3984.6 1243.0,3974.4 1246.9,3964.3 1250.7,3954.2 1254.6,3944.0 1258.5,3933.9 1262.3,3923.8 1266.2,3913.8 1270.1,3903.8 1273.9,3893.9 1277.8,3884.6 1281.7,3876.2 1285.5,3869.3 1289.4,3864.2 1293.3,3861.3 1297.1,3860.1 1301.0,3860.1 1304.9,3860.7 1308.7,3861.6 1312.6,3863.5 1316.5,3867.6 1320.3,3875.0 1324.2,3886.5 1328.1,3901.7 1331.9,3919.8 1335.8,3940.2 1339.7,3962.2 1343.5,3985.5 1347.4,4009.4 1351.3,4033.8 1355.1,4058.2 1359.0,4082.2 1362.9,4105.8 1366.7,4129.3 1370.6,4152.6 1374.5,4176.0 1378.3,4199.4 1382.2,4223.1 1386.1,4246.6 1389.9,4269.6 1393.8,4291.9 1397.7,4313.1 1401.5,4332.8 1405.4,4350.8 1409.3,4366.8 1413.1,4380.9 1417.0,4393.2 1420.9,4404.1 1424.7,4413.7 1428.6,4422.2 1432.5,4429.7 1436.3,4436.5 1440.2,4442.5 1444.1,4447.7 1447.9,4452.3 1451.8,4456.3 1455.7,4459.8 1459.5,4462.9 1463.4,4465.4 1467.3,4467.7 1471.1,4469.5 1475.0,4471.2 1478.9,4472.5 1482.7,4473.7 1486.6,4474.8 1490.5,4475.8 1494.3,4476.6 1498.2,4477.3 1502.1,4478.0 1505.9,4478.5 1509.8,4479.0 1513.7,4479.4 1517.5,4479.8 1521.4,4480.1 1525.3,4480.4 1529.1,4480.6 1533.0,4480.8 1536.9,4481.0 1540.7,4481.2 1544.6,4481.4 1548.5,4481.5 1552.3,4481.7 1556.2,4481.9 1560.1,4482.1 1563.9,4482.3 1567.8,4482.5 1571.7,4482.6 1575.5,4482.8 1579.4,4483.0 1583.3,4483.2 1587.1,4483.4 1591.0,4483.6 1594.9,4483.8 1598.7,4484.0 1602.6,4484.1 1606.5,4484.3 1610.3,4484.5 1614.2,4484.7 1618.1,4484.9 1621.9,4485.1 1625.8,4485.2 1629.7,4485.4 1633.5,4485.6 1637.4,4485.8 1641.3,4486.0 1645.1,4486.1 1649.0,4486.3 1652.9,4486.5 1656.7,4486.7 1660.6,4486.8 1664.5,4487.0 1668.3,4487.2 1672.2,4487.3 1676.1,4487.5 1679.9,4487.6 1683.8,4487.8 1687.7,4488.0 1691.5,4488.1 1695.4,4488.3 1699.3,4488.4 1703.1,4488.6 1707.0,4488.7 1710.9,4488.9 1714.7,4489.0 1718.6,4489.2 1722.5,4489.3 1726.3,4489.5 1730.2,4489.6 1734.1,4489.8 1738.0,4489.9 1741.8,4490.1 1745.7,4490.2 1749.6,4490.3 1753.4,4490.5 1757.3,4490.6 1761.2,4490.7 1765.0,4490.9 1768.9,4491.0 1772.8,4491.1 1776.6,4491.3 1780.5,4491.4 1784.4,4491.5 1788.2,4491.6 1792.1,4491.8 1796.0,4491.9 1799.8,4492.0 1803.7,4492.1 1807.6,4492.3 1811.4,4492.4 1815.3,4492.5 1819.2,4492.6 1823.0,4492.7 1826.9,4492.9 1830.8,4493.0 1833.1,4493.0"/>
<polyline class="cv" stroke="#008000" stroke-width="9.8" points="284.0,4488.8 287.9,4488.8 291.7,4488.9 295.6,4488.9 299.5,4488.9 303.3,4488.9 307.2,4488.9 311.1,4488.9 314.9,4488.9 318.8,4488.9 322.7,4488.9 326.5,4488.9 330.4,4488.9 334.3,4488.9 338.1,4488.9 342.0,4488.9 345.9,4488.8 349.7,4488.8 353.6,4488.8 357.5,4488.8 361.3,4488.8 365.2,4488.8 369.1,4488.8 372.9,4488.8 376.8,4488.8 380.7,4488.8 384.5,4488.8 388.4,4488.8 392.3,4488.8 396.1,4488.8 400.0,4488.8 403.9,4488.8 407.7,4488.8 411.6,4488.7 415.5,4488.7 419.3,4488.7 423.2,4488.7 427.1,4488.7 430.9,4488.7 434.8,4488.7 438.7,4488.6 442.5,4488.6 446.4,4488.6 450.3,4488.5 454.1,4488.5 458.0,4488.4 461.9,4488.4 465.7,4488.3 469.6,4488.2 473.5,4488.1 477.3,4488.1 481.2,4488.0 485.1,4487.9 488.9,4487.8 492.8,4487.6 496.7,4487.5 500.5,4487.4 504.4,4487.2 508.3,4487.1 512.1,4486.9 516.0,4486.8 519.9,4486.6 523.7,4486.4 527.6,4486.2 531.5,4486.1 535.3,4485.9 539.2,4485.7 543.1,4485.5 546.9,4485.2 550.8,4485.0 554.7,4484.8 558.5,4484.6 562.4,4484.3 566.3,4484.1 570.1,4483.8 574.0,4483.6 577.9,4483.3 581.8,4483.1 585.6,4482.8 589.5,4482.5 593.4,4482.2 597.2,4482.0 601.1,4481.7 605.0,4481.4 608.8,4481.1 612.7,4480.8 616.6,4480.5 620.4,4480.2 624.3,4479.9 628.2,4479.7 632.0,4479.4 635.9,4479.1 639.8,4478.8 643.6,4478.6 647.5,4478.3 651.4,4478.1 655.2,4477.8 659.1,4477.6 663.0,4477.4 666.8,4477.2 670.7,4477.0 674.6,4476.9 678.4,4476.7 682.3,4476.6 686.2,4476.4 690.0,4476.3 693.9,4476.3 697.8,4476.2 701.6,4476.2 705.5,4476.2 709.4,4476.2 713.2,4476.2 717.1,4476.2 721.0,4476.3 724.8,4476.4 728.7,4476.4 732.6,4476.5 736.4,4476.6 740.3,4476.6 744.2,4476.6 748.0,4476.6 751.9,4476.6 755.8,4476.5 759.6,4476.4 763.5,4476.2 767.4,4476.0 771.2,4475.7 775.1,4475.4 779.0,4475.0 782.8,4474.5 786.7,4473.9 790.6,4473.2 794.4,4472.5 798.3,4471.6 802.2,4470.7 806.0,4469.8 809.9,4468.7 813.8,4467.6 817.6,4466.5 821.5,4465.3 825.4,4464.1 829.2,4462.8 833.1,4461.6 837.0,4460.3 840.8,4458.9 844.7,4457.6 848.6,4456.3 852.4,4454.9 856.3,4453.6 860.2,4452.2 864.0,4450.9 867.9,4449.5 871.8,4448.1 875.6,4446.7 879.5,4445.3 883.4,4443.8 887.2,4442.4 891.1,4440.9 895.0,4439.5 898.8,4438.0 902.7,4436.5 906.6,4434.9 910.4,4433.4 914.3,4431.8 918.2,4430.1 922.0,4428.5 925.9,4426.8 929.8,4425.0 933.6,4423.2 937.5,4421.3 941.4,4419.4 945.2,4417.4 949.1,4415.3 953.0,4413.1 956.8,4410.9 960.7,4408.6 964.6,4406.1 968.4,4403.6 972.3,4401.0 976.2,4398.2 980.0,4395.2 983.9,4392.1 987.8,4388.8 991.6,4385.3 995.5,4381.5 999.4,4377.5 1003.2,4373.3 1007.1,4368.8 1011.0,4364.0 1014.8,4358.9 1018.7,4353.6 1022.6,4348.0 1026.4,4342.3 1030.3,4336.4 1034.2,4330.4 1038.0,4324.4 1041.9,4318.3 1045.8,4312.3 1049.6,4306.3 1053.5,4300.4 1057.4,4294.7 1061.2,4289.2 1065.1,4283.9 1069.0,4278.8 1072.8,4274.1 1076.7,4269.7 1080.6,4265.7 1084.4,4262.2 1088.3,4259.0 1092.2,4256.4 1096.0,4254.3 1099.9,4252.7 1103.8,4251.8 1107.6,4251.4 1111.5,4251.5 1115.4,4251.9 1119.2,4252.7 1123.1,4253.5 1127.0,4254.4 1130.8,4255.2 1134.7,4255.9 1138.6,4256.4 1142.4,4256.7 1146.3,4256.7 1150.2,4256.4 1154.0,4255.8 1157.9,4254.9 1161.8,4253.6 1165.7,4251.9 1169.5,4249.9 1173.4,4247.6 1177.3,4245.0 1181.1,4242.1 1185.0,4238.9 1188.9,4235.4 1192.7,4231.7 1196.6,4227.8 1200.5,4223.7 1204.3,4219.3 1208.2,4214.8 1212.1,4210.2 1215.9,4205.4 1219.8,4200.5 1223.7,4195.4 1227.5,4190.0 1231.4,4184.5 1235.3,4178.7 1239.1,4172.7 1243.0,4166.3 1246.9,4159.7 1250.7,4152.8 1254.6,4146.0 1258.5,4139.3 1262.3,4132.8 1266.2,4126.8 1270.1,4121.3 1273.9,4116.4 1277.8,4112.3 1281.7,4108.8 1285.5,4105.8 1289.4,4103.5 1293.3,4101.6 1297.1,4100.4 1301.0,4100.0 1304.9,4100.6 1308.7,4102.2 1312.6,4105.2 1316.5,4109.7 1320.3,4116.1 1324.2,4124.4 1328.1,4134.4 1331.9,4145.7 1335.8,4158.0 1339.7,4170.9 1343.5,4184.3 1347.4,4198.4 1351.3,4213.0 1355.1,4228.3 1359.0,4244.2 1362.9,4260.5 1366.7,4277.2 1370.6,4293.9 1374.5,4310.6 1378.3,4327.0 1382.2,4343.0 1386.1,4358.4 1389.9,4373.1 1393.8,4386.9 1397.7,4399.7 1401.5,4411.4 1405.4,4421.8 1409.3,4430.9 1413.1,4438.6 1417.0,4445.3 1420.9,4450.9 1424.7,4455.8 1428.6,4460.0 1432.5,4463.6 1436.3,4466.7 1440.2,4469.4 1444.1,4471.8 1447.9,4473.7 1451.8,4475.4 1455.7,4476.8 1459.5,4478.0 1463.4,4478.9 1467.3,4479.7 1471.1,4480.4 1475.0,4480.9 1478.9,4481.4 1482.7,4481.8 1486.6,4482.3 1490.5,4482.7 1494.3,4483.1 1498.2,4483.5 1502.1,4483.8 1505.9,4484.2 1509.8,4484.5 1513.7,4484.9 1517.5,4485.2 1521.4,4485.5 1525.3,4485.9 1529.1,4486.2 1533.0,4486.4 1536.9,4486.7 1540.7,4487.0 1544.6,4487.3 1548.5,4487.5 1552.3,4487.7 1556.2,4488.0 1560.1,4488.2 1563.9,4488.4 1567.8,4488.6 1571.7,4488.8 1575.5,4489.0 1579.4,4489.2 1583.3,4489.4 1587.1,4489.6 1591.0,4489.7 1594.9,4489.9 1598.7,4490.1 1602.6,4490.2 1606.5,4490.4 1610.3,4490.5 1614.2,4490.7 1618.1,4490.8 1621.9,4491.0 1625.8,4491.1 1629.7,4491.3 1633.5,4491.4 1637.4,4491.6 1641.3,4491.7 1645.1,4491.9 1649.0,4492.0 1652.9,4492.2 1656.7,4492.4 1660.6,4492.5 1664.5,4492.7 1668.3,4492.8 1672.2,4493.0 1676.1,4493.1 1679.9,4493.3 1683.8,4493.4 1687.7,4493.6 1691.5,4493.7 1695.4,4493.9 1699.3,4494.0 1703.1,4494.2 1707.0,4494.3 1710.9,4494.5 1714.7,4494.6 1718.6,4494.7 1722.5,4494.9 1726.3,4495.0 1730.2,4495.2 1734.1,4495.3 1738.0,4495.4 1741.8,4495.5 1745.7,4495.7 1749.6,4495.8 1753.4,4495.9 1757.3,4496.0 1761.2,4496.1 1765.0,4496.2 1768.9,4496.3 1772.8,4496.4 1776.6,4496.5 1780.5,4496.6 1784.4,4496.7 1788.2,4496.8 1792.1,4496.9 1796.0,4496.9 1799.8,4497.0 1803.7,4497.0 1807.6,4497.1 1811.4,4497.2 1815.3,4497.2 1819.2,4497.2 1823.0,4497.3 1826.9,4497.3 1830.8,4497.3 1833.1,4497.3"/>
<polyline class="cv" stroke="#ff8000" stroke-width="9.8" points="284.0,4496.8 287.9,4496.8 291.7,4496.8 295.6,4496.8 299.5,4496.8 303.3,4496.8 307.2,4496.8 311.1,4496.8 314.9,4496.8 318.8,4496.8 322.7,4496.8 326.5,4496.8 330.4,4496.8 334.3,4496.8 338.1,4496.8 342.0,4496.8 345.9,4496.8 349.7,4496.8 353.6,4496.8 357.5,4496.8 361.3,4496.8 365.2,4496.8 369.1,4496.8 372.9,4496.8 376.8,4496.8 380.7,4496.8 384.5,4496.8 388.4,4496.8 392.3,4496.9 396.1,4496.9 400.0,4496.9 403.9,4496.9 407.7,4496.9 411.6,4496.9 415.5,4496.9 419.3,4496.9 423.2,4496.9 427.1,4496.9 430.9,4496.9 434.8,4496.9 438.7,4496.9 442.5,4496.9 446.4,4496.8 450.3,4496.8 454.1,4496.8 458.0,4496.7 461.9,4496.7 465.7,4496.6 469.6,4496.5 473.5,4496.4 477.3,4496.3 481.2,4496.2 485.1,4496.1 488.9,4496.0 492.8,4495.9 496.7,4495.7 500.5,4495.6 504.4,4495.5 508.3,4495.3 512.1,4495.1 516.0,4495.0 519.9,4494.8 523.7,4494.6 527.6,4494.5 531.5,4494.3 535.3,4494.1 539.2,4493.9 543.1,4493.8 546.9,4493.6 550.8,4493.4 554.7,4493.2 558.5,4493.0 562.4,4492.9 566.3,4492.7 570.1,4492.5 574.0,4492.4 577.9,4492.2 581.8,4492.0 585.6,4491.9 589.5,4491.8 593.4,4491.6 597.2,4491.5 601.1,4491.4 605.0,4491.3 608.8,4491.2 612.7,4491.1 616.6,4491.0 620.4,4490.9 624.3,4490.8 628.2,4490.8 632.0,4490.7 635.9,4490.6 639.8,4490.6 643.6,4490.5 647.5,4490.5 651.4,4490.5 655.2,4490.5 659.1,4490.4 663.0,4490.4 666.8,4490.4 670.7,4490.4 674.6,4490.5 678.4,4490.5 682.3,4490.5 686.2,4490.5 690.0,4490.6 693.9,4490.6 697.8,4490.6 701.6,4490.7 705.5,4490.7 709.4,4490.8 713.2,4490.9 717.1,4491.0 721.0,4491.0 724.8,4491.1 728.7,4491.2 732.6,4491.2 736.4,4491.3 740.3,4491.3 744.2,4491.4 748.0,4491.4 751.9,4491.4 755.8,4491.4 759.6,4491.4 763.5,4491.4 767.4,4491.3 771.2,4491.2 775.1,4491.1 779.0,4491.0 782.8,4490.8 786.7,4490.6 790.6,4490.4 794.4,4490.2 798.3,4489.8 802.2,4489.5 806.0,4489.1 809.9,4488.7 813.8,4488.2 817.6,4487.7 821.5,4487.1 825.4,4486.5 829.2,4485.8 833.1,4485.1 837.0,4484.3 840.8,4483.4 844.7,4482.5 848.6,4481.5 852.4,4480.5 856.3,4479.4 860.2,4478.2 864.0,4477.0 867.9,4475.8 871.8,4474.6 875.6,4473.3 879.5,4472.1 883.4,4470.8 887.2,4469.6 891.1,4468.3 895.0,4467.1 898.8,4465.9 902.7,4464.7 906.6,4463.6 910.4,4462.5 914.3,4461.4 918.2,4460.4 922.0,4459.4 925.9,4458.3 929.8,4457.3 933.6,4456.3 937.5,4455.3 941.4,4454.2 945.2,4453.1 949.1,4452.0 953.0,4450.8 956.8,4449.6 960.7,4448.4 964.6,4447.0 968.4,4445.6 972.3,4444.2 976.2,4442.7 980.0,4441.1 983.9,4439.5 987.8,4437.8 991.6,4436.0 995.5,4434.1 999.4,4432.2 1003.2,4430.2 1007.1,4428.1 1011.0,4425.9 1014.8,4423.7 1018.7,4421.4 1022.6,4418.9 1026.4,4416.4 1030.3,4413.8 1034.2,4411.1 1038.0,4408.2 1041.9,4405.2 1045.8,4402.1 1049.6,4398.9 1053.5,4395.6 1057.4,4392.1 1061.2,4388.7 1065.1,4385.3 1069.0,4382.1 1072.8,4379.0 1076.7,4376.3 1080.6,4373.8 1084.4,4371.8 1088.3,4370.1 1092.2,4368.8 1096.0,4367.8 1099.9,4367.1 1103.8,4366.7 1107.6,4366.5 1111.5,4366.6 1115.4,4366.9 1119.2,4367.2 1123.1,4367.7 1127.0,4368.3 1130.8,4368.8 1134.7,4369.4 1138.6,4369.9 1142.4,4370.3 1146.3,4370.6 1150.2,4370.8 1154.0,4370.8 1157.9,4370.6 1161.8,4370.1 1165.7,4369.4 1169.5,4368.5 1173.4,4367.3 1177.3,4365.8 1181.1,4364.1 1185.0,4362.1 1188.9,4359.9 1192.7,4357.4 1196.6,4354.8 1200.5,4352.1 1204.3,4349.3 1208.2,4346.5 1212.1,4343.7 1215.9,4340.9 1219.8,4338.2 1223.7,4335.5 1227.5,4332.7 1231.4,4329.9 1235.3,4327.0 1239.1,4324.1 1243.0,4321.0 1246.9,4317.8 1250.7,4314.5 1254.6,4311.1 1258.5,4307.8 1262.3,4304.6 1266.2,4301.5 1270.1,4298.7 1273.9,4296.0 1277.8,4293.7 1281.7,4291.6 1285.5,4289.8 1289.4,4288.3 1293.3,4287.1 1297.1,4286.4 1301.0,4286.3 1304.9,4287.0 1308.7,4288.7 1312.6,4291.5 1316.5,4295.5 1320.3,4300.8 1324.2,4307.5 1328.1,4315.1 1331.9,4323.3 1335.8,4331.5 1339.7,4339.4 1343.5,4347.1 1347.4,4354.6 1351.3,4362.1 1355.1,4369.6 1359.0,4377.3 1362.9,4385.1 1366.7,4393.0 1370.6,4400.9 1374.5,4408.8 1378.3,4416.7 1382.2,4424.4 1386.1,4431.8 1389.9,4439.0 1393.8,4445.8 1397.7,4452.0 1401.5,4457.7 1405.4,4462.7 1409.3,4467.0 1413.1,4470.5 1417.0,4473.5 1420.9,4476.1 1424.7,4478.3 1428.6,4480.3 1432.5,4482.2 1436.3,4484.0 1440.2,4485.6 1444.1,4487.0 1447.9,4488.3 1451.8,4489.4 1455.7,4490.3 1459.5,4491.1 1463.4,4491.7 1467.3,4492.2 1471.1,4492.5 1475.0,4492.8 1478.9,4493.1 1482.7,4493.2 1486.6,4493.4 1490.5,4493.6 1494.3,4493.7 1498.2,4493.8 1502.1,4493.9 1505.9,4494.0 1509.8,4494.1 1513.7,4494.2 1517.5,4494.3 1521.4,4494.3 1525.3,4494.4 1529.1,4494.4 1533.0,4494.5 1536.9,4494.5 1540.7,4494.6 1544.6,4494.6 1548.5,4494.7 1552.3,4494.7 1556.2,4494.7 1560.1,4494.8 1563.9,4494.8 1567.8,4494.9 1571.7,4494.9 1575.5,4494.9 1579.4,4495.0 1583.3,4495.0 1587.1,4495.0 1591.0,4495.1 1594.9,4495.1 1598.7,4495.2 1602.6,4495.2 1606.5,4495.2 1610.3,4495.3 1614.2,4495.3 1618.1,4495.4 1621.9,4495.4 1625.8,4495.5 1629.7,4495.5 1633.5,4495.5 1637.4,4495.6 1641.3,4495.6 1645.1,4495.7 1649.0,4495.7 1652.9,4495.8 1656.7,4495.9 1660.6,4495.9 1664.5,4496.0 1668.3,4496.0 1672.2,4496.1 1676.1,4496.2 1679.9,4496.2 1683.8,4496.3 1687.7,4496.3 1691.5,4496.4 1695.4,4496.5 1699.3,4496.5 1703.1,4496.6 1707.0,4496.7 1710.9,4496.8 1714.7,4496.8 1718.6,4496.9 1722.5,4497.0 1726.3,4497.0 1730.2,4497.1 1734.1,4497.2 1738.0,4497.3 1741.8,4497.3 1745.7,4497.4 1749.6,4497.5 1753.4,4497.5 1757.3,4497.6 1761.2,4497.7 1765.0,4497.8 1768.9,4497.8 1772.8,4497.9 1776.6,4498.0 1780.5,4498.1 1784.4,4498.1 1788.2,4498.2 1792.1,4498.3 1796.0,4498.4 1799.8,4498.4 1803.7,4498.5 1807.6,4498.6 1811.4,4498.7 1815.3,4498.7 1819.2,4498.8 1823.0,4498.9 1826.9,4498.9 1830.8,4499.0 1833.1,4499.1"/>
<polyline class="cv" stroke="#ffff00" stroke-width="9.8" points="284.0,4497.8 287.9,4497.8 291.7,4497.8 295.6,4497.8 299.5,4497.8 303.3,4497.8 307.2,4497.8 311.1,4497.8 314.9,4497.8 318.8,4497.8 322.7,4497.8 326.5,4497.8 330.4,4497.7 334.3,4497.7 338.1,4497.7 342.0,4497.7 345.9,4497.7 349.7,4497.7 353.6,4497.7 357.5,4497.8 361.3,4497.8 365.2,4497.8 369.1,4497.8 372.9,4497.8 376.8,4497.8 380.7,4497.8 384.5,4497.8 388.4,4497.8 392.3,4497.8 396.1,4497.8 400.0,4497.8 403.9,4497.9 407.7,4497.9 411.6,4497.9 415.5,4497.9 419.3,4497.9 423.2,4497.9 427.1,4497.9 430.9,4497.8 434.8,4497.8 438.7,4497.8 442.5,4497.8 446.4,4497.8 450.3,4497.7 454.1,4497.7 458.0,4497.7 461.9,4497.6 465.7,4497.6 469.6,4497.5 473.5,4497.4 477.3,4497.4 481.2,4497.3 485.1,4497.2 488.9,4497.1 492.8,4497.0 496.7,4496.9 500.5,4496.8 504.4,4496.7 508.3,4496.6 512.1,4496.5 516.0,4496.3 519.9,4496.2 523.7,4496.1 527.6,4496.0 531.5,4495.8 535.3,4495.7 539.2,4495.6 543.1,4495.4 546.9,4495.3 550.8,4495.2 554.7,4495.1 558.5,4495.0 562.4,4494.8 566.3,4494.7 570.1,4494.6 574.0,4494.5 577.9,4494.4 581.8,4494.3 585.6,4494.3 589.5,4494.2 593.4,4494.1 597.2,4494.0 601.1,4494.0 605.0,4493.9 608.8,4493.9 612.7,4493.9 616.6,4493.8 620.4,4493.8 624.3,4493.8 628.2,4493.8 632.0,4493.7 635.9,4493.7 639.8,4493.7 643.6,4493.7 647.5,4493.7 651.4,4493.7 655.2,4493.8 659.1,4493.8 663.0,4493.8 666.8,4493.8 670.7,4493.8 674.6,4493.8 678.4,4493.8 682.3,4493.9 686.2,4493.9 690.0,4493.9 693.9,4493.9 697.8,4493.9 701.6,4493.9 705.5,4493.9 709.4,4493.9 713.2,4493.9 717.1,4493.9 721.0,4493.9 724.8,4493.9 728.7,4493.9 732.6,4493.9 736.4,4493.9 740.3,4493.9 744.2,4493.8 748.0,4493.8 751.9,4493.8 755.8,4493.8 759.6,4493.7 763.5,4493.7 767.4,4493.6 771.2,4493.6 775.1,4493.5 779.0,4493.5 782.8,4493.4 786.7,4493.3 790.6,4493.3 794.4,4493.2 798.3,4493.1 802.2,4493.0 806.0,4492.9 809.9,4492.8 813.8,4492.6 817.6,4492.4 821.5,4492.3 825.4,4492.1 829.2,4491.8 833.1,4491.6 837.0,4491.3 840.8,4491.0 844.7,4490.7 848.6,4490.3 852.4,4489.9 856.3,4489.4 860.2,4489.0 864.0,4488.5 867.9,4488.0 871.8,4487.5 875.6,4486.9 879.5,4486.4 883.4,4485.8 887.2,4485.3 891.1,4484.7 895.0,4484.1 898.8,4483.5 902.7,4482.9 906.6,4482.4 910.4,4481.8 914.3,4481.2 918.2,4480.6 922.0,4480.1 925.9,4479.5 929.8,4478.9 933.6,4478.2 937.5,4477.6 941.4,4477.0 945.2,4476.3 949.1,4475.6 953.0,4474.9 956.8,4474.1 960.7,4473.4 964.6,4472.5 968.4,4471.7 972.3,4470.8 976.2,4469.9 980.0,4469.0 983.9,4468.0 987.8,4467.0 991.6,4465.9 995.5,4464.8 999.4,4463.6 1003.2,4462.4 1007.1,4461.2 1011.0,4459.9 1014.8,4458.6 1018.7,4457.2 1022.6,4455.8 1026.4,4454.4 1030.3,4452.9 1034.2,4451.4 1038.0,4449.8 1041.9,4448.2 1045.8,4446.6 1049.6,4445.0 1053.5,4443.4 1057.4,4441.7 1061.2,4440.0 1065.1,4438.3 1069.0,4436.6 1072.8,4435.0 1076.7,4433.3 1080.6,4431.6 1084.4,4429.9 1088.3,4428.3 1092.2,4426.9 1096.0,4425.7 1099.9,4424.8 1103.8,4424.2 1107.6,4424.0 1111.5,4424.2 1115.4,4424.6 1119.2,4425.1 1123.1,4425.7 1127.0,4426.3 1130.8,4426.7 1134.7,4427.0 1138.6,4427.2 1142.4,4427.3 1146.3,4427.2 1150.2,4427.2 1154.0,4427.0 1157.9,4426.8 1161.8,4426.5 1165.7,4426.1 1169.5,4425.6 1173.4,4424.9 1177.3,4424.0 1181.1,4423.0 1185.0,4421.8 1188.9,4420.3 1192.7,4418.8 1196.6,4417.1 1200.5,4415.3 1204.3,4413.4 1208.2,4411.5 1212.1,4409.5 1215.9,4407.6 1219.8,4405.8 1223.7,4403.9 1227.5,4402.1 1231.4,4400.3 1235.3,4398.6 1239.1,4397.0 1243.0,4395.4 1246.9,4393.8 1250.7,4392.4 1254.6,4390.9 1258.5,4389.5 1262.3,4388.0 1266.2,4386.5 1270.1,4385.0 1273.9,4383.4 1277.8,4381.8 1281.7,4380.3 1285.5,4379.0 1289.4,4378.0 1293.3,4377.4 1297.1,4377.2 1301.0,4377.4 1304.9,4378.1 1308.7,4379.3 1312.6,4381.0 1316.5,4383.5 1320.3,4386.6 1324.2,4390.6 1328.1,4395.1 1331.9,4399.9 1335.8,4404.8 1339.7,4409.5 1343.5,4414.1 1347.4,4418.6 1351.3,4423.1 1355.1,4427.6 1359.0,4432.1 1362.9,4436.6 1366.7,4441.1 1370.6,4445.5 1374.5,4449.8 1378.3,4454.0 1382.2,4458.0 1386.1,4461.8 1389.9,4465.4 1393.8,4468.8 1397.7,4472.0 1401.5,4474.9 1405.4,4477.6 1409.3,4480.1 1413.1,4482.3 1417.0,4484.2 1420.9,4485.9 1424.7,4487.4 1428.6,4488.6 1432.5,4489.6 1436.3,4490.3 1440.2,4490.9 1444.1,4491.4 1447.9,4491.8 1451.8,4492.1 1455.7,4492.4 1459.5,4492.6 1463.4,4492.8 1467.3,4493.1 1471.1,4493.3 1475.0,4493.5 1478.9,4493.6 1482.7,4493.8 1486.6,4494.0 1490.5,4494.1 1494.3,4494.3 1498.2,4494.4 1502.1,4494.5 1505.9,4494.7 1509.8,4494.8 1513.7,4494.9 1517.5,4495.0 1521.4,4495.1 1525.3,4495.2 1529.1,4495.4 1533.0,4495.5 1536.9,4495.5 1540.7,4495.6 1544.6,4495.7 1548.5,4495.8 1552.3,4495.9 1556.2,4496.0 1560.1,4496.1 1563.9,4496.2 1567.8,4496.2 1571.7,4496.3 1575.5,4496.4 1579.4,4496.5 1583.3,4496.5 1587.1,4496.6 1591.0,4496.7 1594.9,4496.8 1598.7,4496.8 1602.6,4496.9 1606.5,4497.0 1610.3,4497.0 1614.2,4497.1 1618.1,4497.2 1621.9,4497.2 1625.8,4497.3 1629.7,4497.4 1633.5,4497.5 1637.4,4497.5 1641.3,4497.6 1645.1,4497.7 1649.0,4497.8 1652.9,4497.8 1656.7,4497.9 1660.6,4498.0 1664.5,4498.1 1668.3,4498.1 1672.2,4498.2 1676.1,4498.3 1679.9,4498.4 1683.8,4498.4 1687.7,4498.5 1691.5,4498.6 1695.4,4498.7 1699.3,4498.8 1703.1,4498.8 1707.0,4498.9 1710.9,4499.0 1714.7,4499.1 1718.6,4499.1 1722.5,4499.2 1726.3,4499.3 1730.2,4499.4 1734.1,4499.4 1738.0,4499.5 1741.8,4499.6 1745.7,4499.6 1749.6,4499.7 1753.4,4499.8 1757.3,4499.8 1761.2,4499.9 1765.0,4500.0 1768.9,4500.0 1772.8,4500.1 1776.6,4500.1 1780.5,4500.2 1784.4,4500.3 1788.2,4500.3 1792.1,4500.4 1796.0,4500.4 1799.8,4500.5 1803.7,4500.5 1807.6,4500.5 1811.4,4500.6 1815.3,4500.6 1819.2,4500.7 1823.0,4500.7 1826.9,4500.7 1830.8,4500.7 1833.1,4500.8"/>
<polyline class="cv" stroke="#ff0000" stroke-width="9.8" points="284.0,4500.0 287.9,4500.0 291.7,4500.0 295.6,4500.0 299.5,4500.1 303.3,4500.1 307.2,4500.1 311.1,4500.1 314.9,4500.1 318.8,4500.1 322.7,4500.1 326.5,4500.1 330.4,4500.1 334.3,4500.1 338.1,4500.2 342.0,4500.2 345.9,4500.2 349.7,4500.2 353.6,4500.2 357.5,4500.2 361.3,4500.2 365.2,4500.2 369.1,4500.2 372.9,4500.2 376.8,4500.2 380.7,4500.3 384.5,4500.3 388.4,4500.3 392.3,4500.3 396.1,4500.3 400.0,4500.3 403.9,4500.3 407.7,4500.3 411.6,4500.3 415.5,4500.3 419.3,4500.3 423.2,4500.3 427.1,4500.3 430.9,4500.3 434.8,4500.3 438.7,4500.3 442.5,4500.3 446.4,4500.3 450.3,4500.3 454.1,4500.3 458.0,4500.3 461.9,4500.3 465.7,4500.3 469.6,4500.3 473.5,4500.3 477.3,4500.3 481.2,4500.3 485.1,4500.3 488.9,4500.3 492.8,4500.3 496.7,4500.3 500.5,4500.3 504.4,4500.3 508.3,4500.3 512.1,4500.3 516.0,4500.3 519.9,4500.4 523.7,4500.4 527.6,4500.4 531.5,4500.4 535.3,4500.4 539.2,4500.4 543.1,4500.4 546.9,4500.4 550.8,4500.4 554.7,4500.4 558.5,4500.4 562.4,4500.4 566.3,4500.4 570.1,4500.4 574.0,4500.4 577.9,4500.4 581.8,4500.4 585.6,4500.4 589.5,4500.4 593.4,4500.4 597.2,4500.4 601.1,4500.4 605.0,4500.4 608.8,4500.4 612.7,4500.3 616.6,4500.3 620.4,4500.3 624.3,4500.3 628.2,4500.3 632.0,4500.3 635.9,4500.3 639.8,4500.3 643.6,4500.3 647.5,4500.3 651.4,4500.3 655.2,4500.3 659.1,4500.3 663.0,4500.3 666.8,4500.3 670.7,4500.3 674.6,4500.3 678.4,4500.3 682.3,4500.3 686.2,4500.3 690.0,4500.3 693.9,4500.3 697.8,4500.3 701.6,4500.3 705.5,4500.3 709.4,4500.3 713.2,4500.3 717.1,4500.3 721.0,4500.3 724.8,4500.3 728.7,4500.3 732.6,4500.3 736.4,4500.3 740.3,4500.3 744.2,4500.3 748.0,4500.3 751.9,4500.2 755.8,4500.2 759.6,4500.2 763.5,4500.2 767.4,4500.1 771.2,4500.1 775.1,4500.1 779.0,4500.0 782.8,4500.0 786.7,4499.9 790.6,4499.8 794.4,4499.8 798.3,4499.7 802.2,4499.6 806.0,4499.5 809.9,4499.3 813.8,4499.2 817.6,4499.0 821.5,4498.8 825.4,4498.6 829.2,4498.4 833.1,4498.1 837.0,4497.8 840.8,4497.5 844.7,4497.1 848.6,4496.7 852.4,4496.3 856.3,4495.8 860.2,4495.3 864.0,4494.8 867.9,4494.3 871.8,4493.8 875.6,4493.2 879.5,4492.7 883.4,4492.1 887.2,4491.6 891.1,4491.0 895.0,4490.4 898.8,4489.9 902.7,4489.3 906.6,4488.8 910.4,4488.3 914.3,4487.8 918.2,4487.2 922.0,4486.7 925.9,4486.2 929.8,4485.6 933.6,4485.0 937.5,4484.4 941.4,4483.8 945.2,4483.1 949.1,4482.3 953.0,4481.5 956.8,4480.7 960.7,4479.8 964.6,4478.8 968.4,4477.8 972.3,4476.7 976.2,4475.6 980.0,4474.4 983.9,4473.2 987.8,4472.0 991.6,4470.8 995.5,4469.6 999.4,4468.4 1003.2,4467.2 1007.1,4466.0 1011.0,4464.9 1014.8,4463.8 1018.7,4462.7 1022.6,4461.6 1026.4,4460.6 1030.3,4459.6 1034.2,4458.6 1038.0,4457.7 1041.9,4456.7 1045.8,4455.7 1049.6,4454.8 1053.5,4453.8 1057.4,4452.9 1061.2,4451.9 1065.1,4450.9 1069.0,4449.9 1072.8,4448.9 1076.7,4447.9 1080.6,4446.9 1084.4,4445.9 1088.3,4444.9 1092.2,4444.0 1096.0,4443.2 1099.9,4442.6 1103.8,4442.2 1107.6,4442.1 1111.5,4442.1 1115.4,4442.4 1119.2,4442.7 1123.1,4443.2 1127.0,4443.7 1130.8,4444.1 1134.7,4444.6 1138.6,4444.9 1142.4,4445.3 1146.3,4445.5 1150.2,4445.6 1154.0,4445.7 1157.9,4445.6 1161.8,4445.3 1165.7,4445.0 1169.5,4444.4 1173.4,4443.7 1177.3,4442.9 1181.1,4441.8 1185.0,4440.7 1188.9,4439.3 1192.7,4437.9 1196.6,4436.4 1200.5,4434.9 1204.3,4433.3 1208.2,4431.9 1212.1,4430.5 1215.9,4429.2 1219.8,4428.0 1223.7,4426.9 1227.5,4425.7 1231.4,4424.6 1235.3,4423.4 1239.1,4422.1 1243.0,4420.7 1246.9,4419.1 1250.7,4417.4 1254.6,4415.7 1258.5,4414.1 1262.3,4412.5 1266.2,4411.0 1270.1,4409.7 1273.9,4408.7 1277.8,4407.8 1281.7,4407.2 1285.5,4406.7 1289.4,4406.4 1293.3,4406.1 1297.1,4406.0 1301.0,4406.1 1304.9,4406.4 1308.7,4406.9 1312.6,4407.8 1316.5,4409.1 1320.3,4410.8 1324.2,4413.0 1328.1,4415.8 1331.9,4418.9 1335.8,4422.4 1339.7,4426.3 1343.5,4430.4 1347.4,4434.6 1351.3,4438.9 1355.1,4443.1 1359.0,4447.2 1362.9,4451.2 1366.7,4455.0 1370.6,4458.7 1374.5,4462.2 1378.3,4465.5 1382.2,4468.7 1386.1,4471.8 1389.9,4474.6 1393.8,4477.3 1397.7,4479.9 1401.5,4482.2 1405.4,4484.4 1409.3,4486.4 1413.1,4488.2 1417.0,4489.8 1420.9,4491.3 1424.7,4492.6 1428.6,4493.8 1432.5,4494.7 1436.3,4495.6 1440.2,4496.3 1444.1,4496.9 1447.9,4497.4 1451.8,4497.8 1455.7,4498.2 1459.5,4498.5 1463.4,4498.8 1467.3,4499.0 1471.1,4499.2 1475.0,4499.3 1478.9,4499.5 1482.7,4499.6 1486.6,4499.7 1490.5,4499.7 1494.3,4499.8 1498.2,4499.9 1502.1,4499.9 1505.9,4499.9 1509.8,4500.0 1513.7,4500.0 1517.5,4500.0 1521.4,4500.0 1525.3,4500.0 1529.1,4500.0 1533.0,4500.0 1536.9,4500.1 1540.7,4500.1 1544.6,4500.1 1548.5,4500.1 1552.3,4500.1 1556.2,4500.1 1560.1,4500.1 1563.9,4500.1 1567.8,4500.1 1571.7,4500.1 1575.5,4500.1 1579.4,4500.1 1583.3,4500.1 1587.1,4500.1 1591.0,4500.1 1594.9,4500.1 1598.7,4500.1 1602.6,4500.1 1606.5,4500.2 1610.3,4500.2 1614.2,4500.2 1618.1,4500.2 1621.9,4500.2 1625.8,4500.3 1629.7,4500.3 1633.5,4500.3 1637.4,4500.3 1641.3,4500.4 1645.1,4500.4 1649.0,4500.4 1652.9,4500.5 1656.7,4500.5 1660.6,4500.6 1664.5,4500.6 1668.3,4500.7 1672.2,4500.7 1676.1,4500.8 1679.9,4500.8 1683.8,4500.9 1687.7,4500.9 1691.5,4501.0 1695.4,4501.0 1699.3,4501.1 1703.1,4501.2 1707.0,4501.2 1710.9,4501.3 1714.7,4501.4 1718.6,4501.4 1722.5,4501.5 1726.3,4501.6 1730.2,4501.7 1734.1,4501.7 1738.0,4501.8 1741.8,4501.9 1745.7,4502.0 1749.6,4502.1 1753.4,4502.2 1757.3,4502.3 1761.2,4502.3 1765.0,4502.4 1768.9,4502.5 1772.8,4502.6 1776.6,4502.7 1780.5,4502.8 1784.4,4502.9 1788.2,4503.0 1792.1,4503.1 1796.0,4503.2 1799.8,4503.3 1803.7,4503.4 1807.6,4503.6 1811.4,4503.7 1815.3,4503.8 1819.2,4503.9 1823.0,4504.0 1826.9,4504.1 1830.8,4504.2 1833.1,4504.3"/>
</g>
<rect class="ax" x="284" y="3216.3" width="1740.1" height="1289.2" stroke-width="4.2"/>
<path class="ax" stroke-width="4" d="M284 4505.5 v24 M477.3 4505.5 v12.5 M670.7 4505.5 v24 M864 4505.5 v12.5 M1056.8 4505.5 v24 M1251.3 4505.5 v12.5 M1442.2 4505.5 v24 M1636.9 4505.5 v12.5 M1832.8 4505.5 v24 M2024.1 4505.5 v12.5 M284 4505.5 h-29 M284 4440.3 h-13.5 M284 4375.6 h-29 M284 4310.6 h-13.5 M284 4248.6 h-29 M284 4184.6 h-13.5 M284 4119.2 h-29 M284 4054.2 h-13.5 M284 3988.2 h-29 M284 3923.2 h-13.5 M284 3862.4 h-29 M284 3797.5 h-13.5 M284 3731.9 h-29 M284 3668 h-13.5 M284 3602.4 h-29 M284 3540.5 h-13.5 M284 3475.3 h-29 M284 3411 h-13.5 M284 3345.3 h-29 M284 3281.1 h-13.5 M284 3216.1 h-29"/>
<text x="280.5" y="4602.5" font-size="67" class="tl" text-anchor="middle" textLength="101.5" lengthAdjust="spacing">400</text>
<text x="667.2" y="4602.5" font-size="67" class="tl" text-anchor="middle" textLength="101.5" lengthAdjust="spacing">500</text>
<text x="1053.9" y="4602.5" font-size="67" class="tl" text-anchor="middle" textLength="101.5" lengthAdjust="spacing">600</text>
<text x="1440.6" y="4602.5" font-size="67" class="tl" text-anchor="middle" textLength="101.5" lengthAdjust="spacing">700</text>
<text x="1827.3" y="4602.5" font-size="67" class="tl" text-anchor="middle" textLength="101.5" lengthAdjust="spacing">800</text>
<text x="234.2" y="4523.4" font-size="67" class="tl" text-anchor="end" textLength="85" lengthAdjust="spacing">0.0</text>
<text x="234.2" y="4396" font-size="67" class="tl" text-anchor="end" textLength="85" lengthAdjust="spacing">0.2</text>
<text x="234.2" y="4265.5" font-size="67" class="tl" text-anchor="end" textLength="85" lengthAdjust="spacing">0.4</text>
<text x="234.2" y="4136.7" font-size="67" class="tl" text-anchor="end" textLength="85" lengthAdjust="spacing">0.6</text>
<text x="234.2" y="4009.5" font-size="67" class="tl" text-anchor="end" textLength="85" lengthAdjust="spacing">0.8</text>
<text x="234.2" y="3880.6" font-size="67" class="tl" text-anchor="end" textLength="85" lengthAdjust="spacing">1.0</text>
<text x="234.2" y="3752.6" font-size="67" class="tl" text-anchor="end" textLength="85" lengthAdjust="spacing">1.2</text>
<text x="234.2" y="3623.2" font-size="67" class="tl" text-anchor="end" textLength="85" lengthAdjust="spacing">1.4</text>
<text x="234.2" y="3494.1" font-size="67" class="tl" text-anchor="end" textLength="85" lengthAdjust="spacing">1.6</text>
<text x="234.2" y="3364.4" font-size="67" class="tl" text-anchor="end" textLength="85" lengthAdjust="spacing">1.8</text>
<text x="234.2" y="3237.1" font-size="67" class="tl" text-anchor="end" textLength="85" lengthAdjust="spacing">2.0</text>
<text x="847.5" y="4684.4" font-size="67" class="tl">W<tspan x="914" textLength="438.5" lengthAdjust="spacing">avelength (nm)</tspan></text>
<text x="88.4" y="4020.7" font-size="68" class="tl" textLength="357.5" lengthAdjust="spacing" transform="rotate(-90 88.4 4020.7)">Absorbance</text>
<text x="317.1" y="3320.3" font-size="63.5" class="tn" letter-spacing="0.6"><tspan>MnCo</tspan><tspan dy="19.6">2</tspan><tspan dy="-19.6">O</tspan><tspan dy="19.6">4</tspan><tspan dy="-19.6">-CHT</tspan></text>
<line x1="1672.4" y1="3311.6" x2="1813.4" y2="3311.6" stroke="#000000" stroke-width="12" stroke-linecap="round"/>
<text x="1830" y="3331.1" font-size="62" class="tt" textLength="137" lengthAdjust="spacing">Zero</text>
<line x1="1672.4" y1="3391.8" x2="1813.4" y2="3391.8" stroke="#800000" stroke-width="12" stroke-linecap="round"/>
<text x="1830" y="3411.3" font-size="62" class="tt">20</text>
<line x1="1672.4" y1="3472" x2="1813.4" y2="3472" stroke="#00ffff" stroke-width="12" stroke-linecap="round"/>
<text x="1830" y="3491.5" font-size="62" class="tt">40</text>
<line x1="1672.4" y1="3552.2" x2="1813.4" y2="3552.2" stroke="#008000" stroke-width="12" stroke-linecap="round"/>
<text x="1830" y="3571.7" font-size="62" class="tt">60</text>
<line x1="1672.4" y1="3632.4" x2="1813.4" y2="3632.4" stroke="#ff8000" stroke-width="12" stroke-linecap="round"/>
<text x="1830" y="3651.9" font-size="62" class="tt">80</text>
<line x1="1672.4" y1="3712.6" x2="1813.4" y2="3712.6" stroke="#ffff00" stroke-width="12" stroke-linecap="round"/>
<text x="1830" y="3732.1" font-size="62" class="tt">100</text>
<line x1="1672.4" y1="3792.8" x2="1813.4" y2="3792.8" stroke="#ff0000" stroke-width="12" stroke-linecap="round"/>
<text x="1830" y="3812.3" font-size="62" class="tt">120</text>
</g>
</svg>
</body>
</html>
